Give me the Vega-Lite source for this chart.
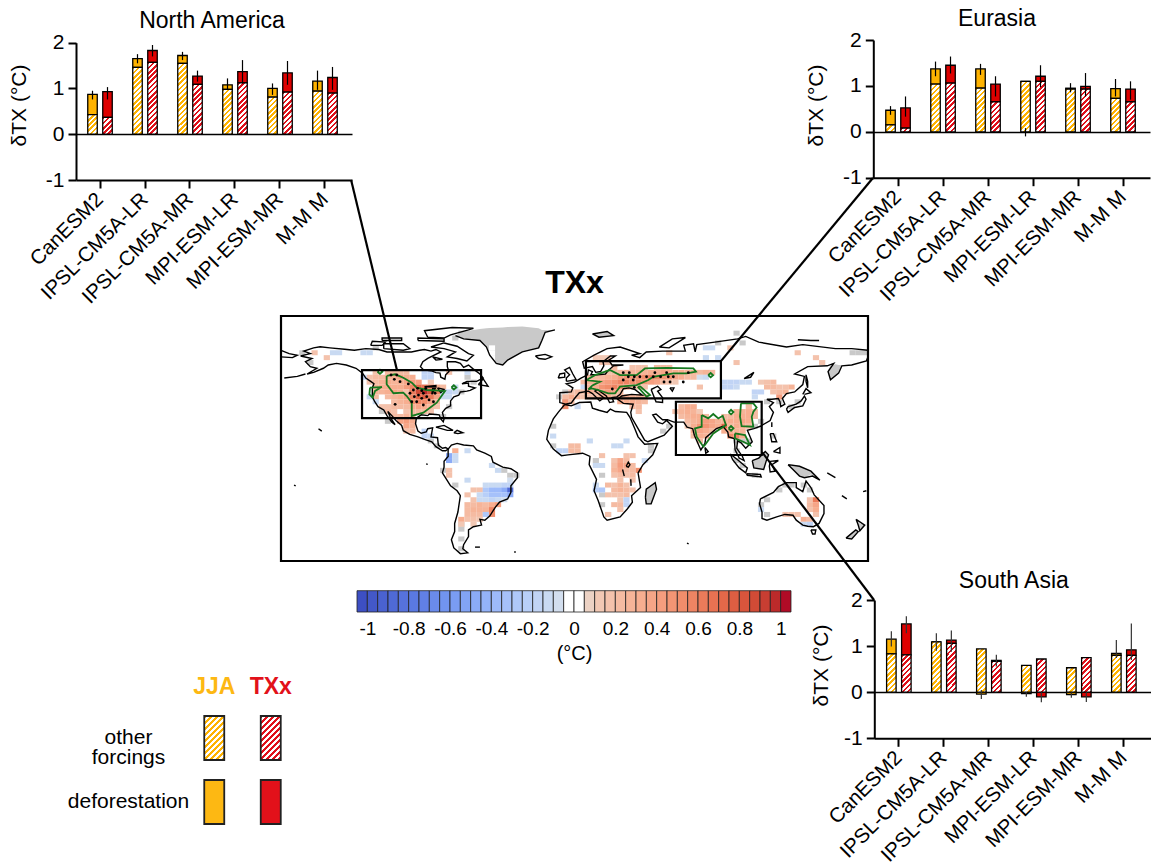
{"$schema":"https://vega.github.io/schema/vega-lite/v6.json","width":1151,"height":865,"padding":0,"autosize":"none","background":"white",
"config":{"view":{"stroke":null},"font":"Liberation Sans","text":{"font":"Liberation Sans"}},
"params":[
{"name":"hatchO","value":[{"offset":0,"color":"#ffb300"},{"offset":0.02,"color":"#ffb300"},{"offset":0.02,"color":"#fff"},{"offset":0.04,"color":"#fff"},{"offset":0.04,"color":"#ffb300"},{"offset":0.06,"color":"#ffb300"},{"offset":0.06,"color":"#fff"},{"offset":0.08,"color":"#fff"},{"offset":0.08,"color":"#ffb300"},{"offset":0.10,"color":"#ffb300"},{"offset":0.10,"color":"#fff"},{"offset":0.12,"color":"#fff"},{"offset":0.12,"color":"#ffb300"},{"offset":0.14,"color":"#ffb300"},{"offset":0.14,"color":"#fff"},{"offset":0.16,"color":"#fff"},{"offset":0.16,"color":"#ffb300"},{"offset":0.18,"color":"#ffb300"},{"offset":0.18,"color":"#fff"},{"offset":0.20,"color":"#fff"},{"offset":0.20,"color":"#ffb300"},{"offset":0.22,"color":"#ffb300"},{"offset":0.22,"color":"#fff"},{"offset":0.24,"color":"#fff"},{"offset":0.24,"color":"#ffb300"},{"offset":0.26,"color":"#ffb300"},{"offset":0.26,"color":"#fff"},{"offset":0.28,"color":"#fff"},{"offset":0.28,"color":"#ffb300"},{"offset":0.30,"color":"#ffb300"},{"offset":0.30,"color":"#fff"},{"offset":0.32,"color":"#fff"},{"offset":0.32,"color":"#ffb300"},{"offset":0.34,"color":"#ffb300"},{"offset":0.34,"color":"#fff"},{"offset":0.36,"color":"#fff"},{"offset":0.36,"color":"#ffb300"},{"offset":0.38,"color":"#ffb300"},{"offset":0.38,"color":"#fff"},{"offset":0.40,"color":"#fff"},{"offset":0.40,"color":"#ffb300"},{"offset":0.42,"color":"#ffb300"},{"offset":0.42,"color":"#fff"},{"offset":0.44,"color":"#fff"},{"offset":0.44,"color":"#ffb300"},{"offset":0.46,"color":"#ffb300"},{"offset":0.46,"color":"#fff"},{"offset":0.48,"color":"#fff"},{"offset":0.48,"color":"#ffb300"},{"offset":0.50,"color":"#ffb300"},{"offset":0.50,"color":"#fff"},{"offset":0.52,"color":"#fff"},{"offset":0.52,"color":"#ffb300"},{"offset":0.54,"color":"#ffb300"},{"offset":0.54,"color":"#fff"},{"offset":0.56,"color":"#fff"},{"offset":0.56,"color":"#ffb300"},{"offset":0.58,"color":"#ffb300"},{"offset":0.58,"color":"#fff"},{"offset":0.60,"color":"#fff"},{"offset":0.60,"color":"#ffb300"},{"offset":0.62,"color":"#ffb300"},{"offset":0.62,"color":"#fff"},{"offset":0.64,"color":"#fff"},{"offset":0.64,"color":"#ffb300"},{"offset":0.66,"color":"#ffb300"},{"offset":0.66,"color":"#fff"},{"offset":0.68,"color":"#fff"},{"offset":0.68,"color":"#ffb300"},{"offset":0.70,"color":"#ffb300"},{"offset":0.70,"color":"#fff"},{"offset":0.72,"color":"#fff"},{"offset":0.72,"color":"#ffb300"},{"offset":0.74,"color":"#ffb300"},{"offset":0.74,"color":"#fff"},{"offset":0.76,"color":"#fff"},{"offset":0.76,"color":"#ffb300"},{"offset":0.78,"color":"#ffb300"},{"offset":0.78,"color":"#fff"},{"offset":0.80,"color":"#fff"},{"offset":0.80,"color":"#ffb300"},{"offset":0.82,"color":"#ffb300"},{"offset":0.82,"color":"#fff"},{"offset":0.84,"color":"#fff"},{"offset":0.84,"color":"#ffb300"},{"offset":0.86,"color":"#ffb300"},{"offset":0.86,"color":"#fff"},{"offset":0.88,"color":"#fff"}]},
{"name":"hatchR","value":[{"offset":0,"color":"#e0101a"},{"offset":0.02,"color":"#e0101a"},{"offset":0.02,"color":"#fff"},{"offset":0.04,"color":"#fff"},{"offset":0.04,"color":"#e0101a"},{"offset":0.06,"color":"#e0101a"},{"offset":0.06,"color":"#fff"},{"offset":0.08,"color":"#fff"},{"offset":0.08,"color":"#e0101a"},{"offset":0.10,"color":"#e0101a"},{"offset":0.10,"color":"#fff"},{"offset":0.12,"color":"#fff"},{"offset":0.12,"color":"#e0101a"},{"offset":0.14,"color":"#e0101a"},{"offset":0.14,"color":"#fff"},{"offset":0.16,"color":"#fff"},{"offset":0.16,"color":"#e0101a"},{"offset":0.18,"color":"#e0101a"},{"offset":0.18,"color":"#fff"},{"offset":0.20,"color":"#fff"},{"offset":0.20,"color":"#e0101a"},{"offset":0.22,"color":"#e0101a"},{"offset":0.22,"color":"#fff"},{"offset":0.24,"color":"#fff"},{"offset":0.24,"color":"#e0101a"},{"offset":0.26,"color":"#e0101a"},{"offset":0.26,"color":"#fff"},{"offset":0.28,"color":"#fff"},{"offset":0.28,"color":"#e0101a"},{"offset":0.30,"color":"#e0101a"},{"offset":0.30,"color":"#fff"},{"offset":0.32,"color":"#fff"},{"offset":0.32,"color":"#e0101a"},{"offset":0.34,"color":"#e0101a"},{"offset":0.34,"color":"#fff"},{"offset":0.36,"color":"#fff"},{"offset":0.36,"color":"#e0101a"},{"offset":0.38,"color":"#e0101a"},{"offset":0.38,"color":"#fff"},{"offset":0.40,"color":"#fff"},{"offset":0.40,"color":"#e0101a"},{"offset":0.42,"color":"#e0101a"},{"offset":0.42,"color":"#fff"},{"offset":0.44,"color":"#fff"},{"offset":0.44,"color":"#e0101a"},{"offset":0.46,"color":"#e0101a"},{"offset":0.46,"color":"#fff"},{"offset":0.48,"color":"#fff"},{"offset":0.48,"color":"#e0101a"},{"offset":0.50,"color":"#e0101a"},{"offset":0.50,"color":"#fff"},{"offset":0.52,"color":"#fff"},{"offset":0.52,"color":"#e0101a"},{"offset":0.54,"color":"#e0101a"},{"offset":0.54,"color":"#fff"},{"offset":0.56,"color":"#fff"},{"offset":0.56,"color":"#e0101a"},{"offset":0.58,"color":"#e0101a"},{"offset":0.58,"color":"#fff"},{"offset":0.60,"color":"#fff"},{"offset":0.60,"color":"#e0101a"},{"offset":0.62,"color":"#e0101a"},{"offset":0.62,"color":"#fff"},{"offset":0.64,"color":"#fff"},{"offset":0.64,"color":"#e0101a"},{"offset":0.66,"color":"#e0101a"},{"offset":0.66,"color":"#fff"},{"offset":0.68,"color":"#fff"},{"offset":0.68,"color":"#e0101a"},{"offset":0.70,"color":"#e0101a"},{"offset":0.70,"color":"#fff"},{"offset":0.72,"color":"#fff"},{"offset":0.72,"color":"#e0101a"},{"offset":0.74,"color":"#e0101a"},{"offset":0.74,"color":"#fff"},{"offset":0.76,"color":"#fff"},{"offset":0.76,"color":"#e0101a"},{"offset":0.78,"color":"#e0101a"},{"offset":0.78,"color":"#fff"},{"offset":0.80,"color":"#fff"},{"offset":0.80,"color":"#e0101a"},{"offset":0.82,"color":"#e0101a"},{"offset":0.82,"color":"#fff"},{"offset":0.84,"color":"#fff"},{"offset":0.84,"color":"#e0101a"},{"offset":0.86,"color":"#e0101a"},{"offset":0.86,"color":"#fff"},{"offset":0.88,"color":"#fff"}]}
],
"datasets":{
"bars":[
{"r":"NA","model":"CanESM2","season":"JJA","other":0.43,"base":0.43,"top":0.87,"lo":0.76,"hi":0.95},
{"r":"NA","model":"CanESM2","season":"TXx","other":0.37,"base":0.37,"top":0.93,"lo":0.76,"hi":1.03},
{"r":"NA","model":"IPSL-CM5A-LR","season":"JJA","other":1.46,"base":1.46,"top":1.65,"lo":1.55,"hi":1.75},
{"r":"NA","model":"IPSL-CM5A-LR","season":"TXx","other":1.57,"base":1.57,"top":1.83,"lo":1.7,"hi":1.95},
{"r":"NA","model":"IPSL-CM5A-MR","season":"JJA","other":1.55,"base":1.55,"top":1.72,"lo":1.62,"hi":1.8},
{"r":"NA","model":"IPSL-CM5A-MR","season":"TXx","other":1.09,"base":1.09,"top":1.27,"lo":1.15,"hi":1.39},
{"r":"NA","model":"MPI-ESM-LR","season":"JJA","other":0.98,"base":0.98,"top":1.08,"lo":0.98,"hi":1.22},
{"r":"NA","model":"MPI-ESM-LR","season":"TXx","other":1.12,"base":1.12,"top":1.37,"lo":1.11,"hi":1.62},
{"r":"NA","model":"MPI-ESM-MR","season":"JJA","other":0.81,"base":0.81,"top":1.0,"lo":0.86,"hi":1.11},
{"r":"NA","model":"MPI-ESM-MR","season":"TXx","other":0.92,"base":0.92,"top":1.34,"lo":1.08,"hi":1.6},
{"r":"NA","model":"M-M M","season":"JJA","other":0.94,"base":0.94,"top":1.16,"lo":0.97,"hi":1.39},
{"r":"NA","model":"M-M M","season":"TXx","other":0.9,"base":0.9,"top":1.24,"lo":0.97,"hi":1.47},
{"r":"EU","model":"CanESM2","season":"JJA","other":0.15,"base":0.15,"top":0.47,"lo":0.37,"hi":0.56},
{"r":"EU","model":"CanESM2","season":"TXx","other":0.08,"base":0.08,"top":0.52,"lo":0.33,"hi":0.77},
{"r":"EU","model":"IPSL-CM5A-LR","season":"JJA","other":1.04,"base":1.04,"top":1.37,"lo":1.21,"hi":1.53},
{"r":"EU","model":"IPSL-CM5A-LR","season":"TXx","other":1.06,"base":1.06,"top":1.45,"lo":1.27,"hi":1.64},
{"r":"EU","model":"IPSL-CM5A-MR","season":"JJA","other":0.95,"base":0.95,"top":1.37,"lo":1.24,"hi":1.48},
{"r":"EU","model":"IPSL-CM5A-MR","season":"TXx","other":0.65,"base":0.65,"top":1.04,"lo":0.77,"hi":1.21},
{"r":"EU","model":"MPI-ESM-LR","season":"JJA","other":1.1,"base":1.1,"top":1.1,"lo":-0.1,"hi":0.08},
{"r":"EU","model":"MPI-ESM-LR","season":"TXx","other":1.1,"base":1.1,"top":1.21,"lo":0.97,"hi":1.45},
{"r":"EU","model":"MPI-ESM-MR","season":"JJA","other":0.93,"base":0.93,"top":0.95,"lo":0.86,"hi":1.06},
{"r":"EU","model":"MPI-ESM-MR","season":"TXx","other":0.93,"base":0.93,"top":0.99,"lo":0.77,"hi":1.28},
{"r":"EU","model":"M-M M","season":"JJA","other":0.73,"base":0.73,"top":0.94,"lo":0.77,"hi":1.15},
{"r":"EU","model":"M-M M","season":"TXx","other":0.65,"base":0.65,"top":0.93,"lo":0.7,"hi":1.1},
{"r":"SA","model":"CanESM2","season":"JJA","other":0.83,"base":0.83,"top":1.15,"lo":0.99,"hi":1.32},
{"r":"SA","model":"CanESM2","season":"TXx","other":0.81,"base":0.81,"top":1.48,"lo":1.28,"hi":1.65},
{"r":"SA","model":"IPSL-CM5A-LR","season":"JJA","other":1.09,"base":1.09,"top":1.09,"lo":0.9,"hi":1.28},
{"r":"SA","model":"IPSL-CM5A-LR","season":"TXx","other":1.06,"base":1.06,"top":1.13,"lo":0.88,"hi":1.34},
{"r":"SA","model":"IPSL-CM5A-MR","season":"JJA","other":0.94,"base":0,"top":-0.04,"lo":-0.15,"hi":0.05},
{"r":"SA","model":"IPSL-CM5A-MR","season":"TXx","other":0.67,"base":0.67,"top":0.69,"lo":0.56,"hi":0.81},
{"r":"SA","model":"MPI-ESM-LR","season":"JJA","other":0.58,"base":0,"top":-0.03,"lo":-0.1,"hi":0},
{"r":"SA","model":"MPI-ESM-LR","season":"TXx","other":0.72,"base":0,"top":-0.1,"lo":-0.22,"hi":0},
{"r":"SA","model":"MPI-ESM-MR","season":"JJA","other":0.53,"base":0,"top":-0.05,"lo":-0.12,"hi":0},
{"r":"SA","model":"MPI-ESM-MR","season":"TXx","other":0.75,"base":0,"top":-0.1,"lo":-0.21,"hi":0},
{"r":"SA","model":"M-M M","season":"JJA","other":0.8,"base":0.8,"top":0.84,"lo":0.74,"hi":1.13},
{"r":"SA","model":"M-M M","season":"TXx","other":0.8,"base":0.8,"top":0.92,"lo":0.7,"hi":1.49}
],
"cells":[
{"lon":-121.9,"lat":55.5,"v":0.15},{"lon":-114.4,"lat":55.5,"v":0.2},{"lon":-110.6,"lat":55.5,"v":0.2},{"lon":-106.9,"lat":55.5,"v":0.2},{"lon":-103.1,"lat":55.5,"v":0.2},{"lon":-91.9,"lat":55.5,"v":-0.2},{"lon":-88.1,"lat":55.5,"v":-0.2},{"lon":-76.9,"lat":55.5,"v":0.15},{"lon":-65.6,"lat":55.5,"v":-0.15},
{"lon":-125.6,"lat":52.5,"v":0.15},{"lon":-121.9,"lat":52.5,"v":0.2},{"lon":-118.1,"lat":52.5,"v":0.2},{"lon":-114.4,"lat":52.5,"v":0.25},{"lon":-110.6,"lat":52.5,"v":0.3},{"lon":-106.9,"lat":52.5,"v":0.35},{"lon":-103.1,"lat":52.5,"v":0.3},{"lon":-99.4,"lat":52.5,"v":0.3},{"lon":-91.9,"lat":52.5,"v":-0.2},{"lon":-88.1,"lat":52.5,"v":-0.2},
{"lon":-125.6,"lat":49.5,"v":0.15},{"lon":-121.9,"lat":49.5,"v":0.2},{"lon":-118.1,"lat":49.5,"v":0.25},{"lon":-114.4,"lat":49.5,"v":0.3},{"lon":-110.6,"lat":49.5,"v":0.25},{"lon":-106.9,"lat":49.5,"v":0.3},{"lon":-103.1,"lat":49.5,"v":0.35},{"lon":-99.4,"lat":49.5,"v":0.4},{"lon":-95.6,"lat":49.5,"v":0.4},{"lon":-88.1,"lat":49.5,"v":0.1},
{"lon":-121.9,"lat":46.5,"v":0.25},{"lon":-118.1,"lat":46.5,"v":0.3},{"lon":-114.4,"lat":46.5,"v":0.3},{"lon":-110.6,"lat":46.5,"v":0.3},{"lon":-106.9,"lat":46.5,"v":0.3},{"lon":-103.1,"lat":46.5,"v":0.4},{"lon":-99.4,"lat":46.5,"v":0.55},{"lon":-95.6,"lat":46.5,"v":0.7},{"lon":-91.9,"lat":46.5,"v":0.65},{"lon":-88.1,"lat":46.5,"v":0.5},{"lon":-84.4,"lat":46.5,"v":0.3},{"lon":-80.6,"lat":46.5,"v":0.2},{"lon":-73.1,"lat":46.5,"v":-0.15},
{"lon":-121.9,"lat":43.5,"v":0.25},{"lon":-118.1,"lat":43.5,"v":0.25},{"lon":-114.4,"lat":43.5,"v":0.3},{"lon":-110.6,"lat":43.5,"v":0.35},{"lon":-106.9,"lat":43.5,"v":0.3},{"lon":-103.1,"lat":43.5,"v":0.15},{"lon":-99.4,"lat":43.5,"v":0.6},{"lon":-95.6,"lat":43.5,"v":0.85},{"lon":-91.9,"lat":43.5,"v":0.95},{"lon":-88.1,"lat":43.5,"v":0.8},{"lon":-84.4,"lat":43.5,"v":0.55},{"lon":-80.6,"lat":43.5,"v":-0.15},{"lon":-76.9,"lat":43.5,"v":-0.2},{"lon":-73.1,"lat":43.5,"v":-0.15},
{"lon":-125.6,"lat":40.5,"v":-0.15},{"lon":-121.9,"lat":40.5,"v":0.2},{"lon":-114.4,"lat":40.5,"v":0.2},{"lon":-110.6,"lat":40.5,"v":0.25},{"lon":-106.9,"lat":40.5,"v":0.3},{"lon":-103.1,"lat":40.5,"v":0.35},{"lon":-99.4,"lat":40.5,"v":0.55},{"lon":-95.6,"lat":40.5,"v":0.7},{"lon":-91.9,"lat":40.5,"v":0.75},{"lon":-88.1,"lat":40.5,"v":0.6},{"lon":-84.4,"lat":40.5,"v":0.35},{"lon":-80.6,"lat":40.5,"v":-0.15},{"lon":-76.9,"lat":40.5,"v":-0.15},
{"lon":-121.9,"lat":37.5,"v":-0.15},{"lon":-110.6,"lat":37.5,"v":0.2},{"lon":-106.9,"lat":37.5,"v":0.25},{"lon":-103.1,"lat":37.5,"v":0.3},{"lon":-99.4,"lat":37.5,"v":0.5},{"lon":-95.6,"lat":37.5,"v":0.55},{"lon":-91.9,"lat":37.5,"v":0.5},{"lon":-88.1,"lat":37.5,"v":0.35},{"lon":-84.4,"lat":37.5,"v":0.2},
{"lon":-118.1,"lat":34.5,"v":0.15},{"lon":-114.4,"lat":34.5,"v":0.15},{"lon":-110.6,"lat":34.5,"v":0.2},{"lon":-106.9,"lat":34.5,"v":0.2},{"lon":-103.1,"lat":34.5,"v":0.2},{"lon":-99.4,"lat":34.5,"v":0.3},{"lon":-95.6,"lat":34.5,"v":0.35},{"lon":-91.9,"lat":34.5,"v":0.3},{"lon":-88.1,"lat":34.5,"v":0.2},{"lon":-84.4,"lat":34.5,"v":0.15},
{"lon":-114.4,"lat":31.5,"v":0.2},{"lon":-110.6,"lat":31.5,"v":0.15},{"lon":-103.1,"lat":31.5,"v":0.15},{"lon":-99.4,"lat":31.5,"v":0.2},{"lon":-95.6,"lat":31.5,"v":0.2},{"lon":-91.9,"lat":31.5,"v":0.2},{"lon":-88.1,"lat":31.5,"v":0.15},
{"lon":-110.6,"lat":28.5,"v":0.2},{"lon":-106.9,"lat":28.5,"v":0.2},{"lon":-103.1,"lat":28.5,"v":0.25},{"lon":-99.4,"lat":28.5,"v":0.2},
{"lon":-106.9,"lat":25.5,"v":0.35},{"lon":-103.1,"lat":25.5,"v":0.4},{"lon":-99.4,"lat":25.5,"v":0.3},{"lon":-103.1,"lat":22.5,"v":0.35},{"lon":-99.4,"lat":22.5,"v":0.25},{"lon":-103.1,"lat":19.5,"v":0.15},{"lon":-99.4,"lat":19.5,"v":0.2},{"lon":-91.9,"lat":19.5,"v":-0.2},{"lon":-91.9,"lat":16.5,"v":-0.2},{"lon":-88.1,"lat":16.5,"v":-0.15},
{"lon":-159.4,"lat":67.5,"v":0.15},{"lon":-148.1,"lat":67.5,"v":-0.15},{"lon":-144.4,"lat":67.5,"v":-0.15},{"lon":-129.4,"lat":67.5,"v":-0.15},{"lon":-125.6,"lat":67.5,"v":-0.15},{"lon":-151.9,"lat":64.5,"v":0.15},{"lon":-129.4,"lat":52.5,"v":-0.2},
{"lon":-50.6,"lat":70.5,"v":0},{"lon":-50.6,"lat":67.5,"v":0},{"lon":-50.6,"lat":64.5,"v":0},
{"lon":13.1,"lat":64.5,"v":0.1},{"lon":16.9,"lat":64.5,"v":0.1},{"lon":20.6,"lat":64.5,"v":0.1},{"lon":80.6,"lat":64.5,"v":-0.15},{"lon":88.1,"lat":64.5,"v":-0.15},{"lon":58.1,"lat":67.5,"v":0.15},{"lon":84.4,"lat":70.5,"v":-0.15},{"lon":80.6,"lat":70.5,"v":-0.15},{"lon":95.6,"lat":70.5,"v":0.15},{"lon":99.4,"lat":61.5,"v":0.15},{"lon":136.9,"lat":67.5,"v":0.15},{"lon":148.1,"lat":64.5,"v":0.15},{"lon":151.9,"lat":61.5,"v":0.15},
{"lon":16.9,"lat":61.5,"v":0.15},{"lon":20.6,"lat":61.5,"v":0.15},{"lon":24.4,"lat":58.5,"v":0.2},{"lon":35.6,"lat":58.5,"v":0.15},{"lon":39.4,"lat":58.5,"v":0.15},{"lon":43.1,"lat":58.5,"v":0.15},{"lon":50.6,"lat":58.5,"v":0.2},{"lon":54.4,"lat":58.5,"v":0.2},{"lon":58.1,"lat":58.5,"v":0.2},
{"lon":20.6,"lat":55.5,"v":0.15},{"lon":24.4,"lat":55.5,"v":0.2},{"lon":28.1,"lat":55.5,"v":0.2},{"lon":31.9,"lat":55.5,"v":0.25},{"lon":35.6,"lat":55.5,"v":0.25},{"lon":39.4,"lat":55.5,"v":0.25},{"lon":43.1,"lat":55.5,"v":0.25},{"lon":46.9,"lat":55.5,"v":0.3},{"lon":50.6,"lat":55.5,"v":0.3},{"lon":54.4,"lat":55.5,"v":0.35},{"lon":58.1,"lat":55.5,"v":0.3},{"lon":61.9,"lat":55.5,"v":0.3},{"lon":65.6,"lat":55.5,"v":0.3},{"lon":69.4,"lat":55.5,"v":0.25},{"lon":73.1,"lat":55.5,"v":0.25},{"lon":76.9,"lat":55.5,"v":0.2},{"lon":80.6,"lat":55.5,"v":0.25},{"lon":84.4,"lat":55.5,"v":0.2},
{"lon":9.4,"lat":52.5,"v":0.2},{"lon":13.1,"lat":52.5,"v":0.2},{"lon":16.9,"lat":52.5,"v":0.2},{"lon":20.6,"lat":52.5,"v":0.25},{"lon":24.4,"lat":52.5,"v":0.3},{"lon":28.1,"lat":52.5,"v":0.4},{"lon":31.9,"lat":52.5,"v":0.45},{"lon":35.6,"lat":52.5,"v":0.45},{"lon":39.4,"lat":52.5,"v":0.45},{"lon":43.1,"lat":52.5,"v":0.5},{"lon":46.9,"lat":52.5,"v":0.55},{"lon":50.6,"lat":52.5,"v":0.5},{"lon":54.4,"lat":52.5,"v":0.45},{"lon":58.1,"lat":52.5,"v":0.45},{"lon":61.9,"lat":52.5,"v":0.35},{"lon":65.6,"lat":52.5,"v":0.3},{"lon":69.4,"lat":52.5,"v":0.2},{"lon":73.1,"lat":52.5,"v":0.2},{"lon":76.9,"lat":52.5,"v":-0.1},{"lon":80.6,"lat":52.5,"v":-0.15},
{"lon":5.6,"lat":49.5,"v":0.2},{"lon":9.4,"lat":49.5,"v":0.25},{"lon":13.1,"lat":49.5,"v":0.3},{"lon":16.9,"lat":49.5,"v":0.35},{"lon":20.6,"lat":49.5,"v":0.4},{"lon":24.4,"lat":49.5,"v":0.45},{"lon":28.1,"lat":49.5,"v":0.55},{"lon":31.9,"lat":49.5,"v":0.55},{"lon":35.6,"lat":49.5,"v":0.5},{"lon":39.4,"lat":49.5,"v":0.5},{"lon":43.1,"lat":49.5,"v":0.45},{"lon":46.9,"lat":49.5,"v":0.4},{"lon":50.6,"lat":49.5,"v":0.35},{"lon":54.4,"lat":49.5,"v":0.2},{"lon":58.1,"lat":49.5,"v":0.15},{"lon":61.9,"lat":49.5,"v":0.1},
{"lon":5.6,"lat":46.5,"v":-0.15},{"lon":9.4,"lat":46.5,"v":0.2},{"lon":13.1,"lat":46.5,"v":0.3},{"lon":16.9,"lat":46.5,"v":0.45},{"lon":20.6,"lat":46.5,"v":0.5},{"lon":24.4,"lat":46.5,"v":0.55},{"lon":28.1,"lat":46.5,"v":0.45},{"lon":31.9,"lat":46.5,"v":0.4},{"lon":35.6,"lat":46.5,"v":0.2},{"lon":39.4,"lat":46.5,"v":0.15},{"lon":43.1,"lat":46.5,"v":0.15},{"lon":76.9,"lat":46.5,"v":0.15},
{"lon":-1.9,"lat":43.5,"v":0.15},{"lon":1.9,"lat":43.5,"v":0.2},{"lon":5.6,"lat":43.5,"v":0.15},{"lon":9.4,"lat":43.5,"v":0.3},{"lon":13.1,"lat":43.5,"v":0.2},{"lon":16.9,"lat":43.5,"v":0.35},{"lon":20.6,"lat":43.5,"v":0.4},{"lon":24.4,"lat":43.5,"v":0.35},{"lon":28.1,"lat":43.5,"v":0.2},
{"lon":-5.6,"lat":40.5,"v":0.2},{"lon":-1.9,"lat":40.5,"v":0.3},{"lon":1.9,"lat":40.5,"v":0.2},{"lon":5.6,"lat":40.5,"v":0.15},{"lon":9.4,"lat":40.5,"v":0.15},{"lon":13.1,"lat":40.5,"v":0.2},{"lon":16.9,"lat":40.5,"v":0.25},{"lon":20.6,"lat":40.5,"v":0.3},{"lon":24.4,"lat":40.5,"v":0.2},{"lon":28.1,"lat":40.5,"v":0.3},{"lon":31.9,"lat":40.5,"v":0.3},{"lon":35.6,"lat":40.5,"v":0.25},{"lon":39.4,"lat":40.5,"v":0.25},{"lon":43.1,"lat":40.5,"v":0.2},
{"lon":-5.6,"lat":37.5,"v":0.45},{"lon":-1.9,"lat":37.5,"v":0.2},{"lon":28.1,"lat":37.5,"v":0.3},{"lon":31.9,"lat":37.5,"v":0.3},{"lon":35.6,"lat":37.5,"v":0.3},{"lon":39.4,"lat":37.5,"v":0.25},{"lon":43.1,"lat":37.5,"v":0.2},
{"lon":-5.6,"lat":34.5,"v":0.5},{"lon":1.9,"lat":34.5,"v":-0.15},{"lon":35.6,"lat":34.5,"v":0.2},{"lon":39.4,"lat":34.5,"v":0.2},{"lon":39.4,"lat":31.5,"v":0.15},
{"lon":91.9,"lat":49.5,"v":-0.2},{"lon":95.6,"lat":49.5,"v":-0.2},{"lon":99.4,"lat":49.5,"v":-0.2},{"lon":91.9,"lat":46.5,"v":-0.2},{"lon":95.6,"lat":46.5,"v":-0.2},{"lon":99.4,"lat":46.5,"v":-0.15},{"lon":106.9,"lat":49.5,"v":-0.15},{"lon":103.1,"lat":49.5,"v":-0.15},{"lon":114.4,"lat":49.5,"v":0.1},{"lon":114.4,"lat":43.5,"v":-0.2},{"lon":110.6,"lat":43.5,"v":-0.2},{"lon":110.6,"lat":40.5,"v":-0.15},
{"lon":118.1,"lat":49.5,"v":0.15},{"lon":121.9,"lat":49.5,"v":0.2},{"lon":118.1,"lat":46.5,"v":0.2},{"lon":121.9,"lat":46.5,"v":0.2},{"lon":125.6,"lat":46.5,"v":0.15},{"lon":129.4,"lat":46.5,"v":0.15},{"lon":133.1,"lat":46.5,"v":0.25},{"lon":121.9,"lat":43.5,"v":0.15},{"lon":125.6,"lat":43.5,"v":0.2},{"lon":129.4,"lat":43.5,"v":0.25},{"lon":125.6,"lat":40.5,"v":0.4},
{"lon":65.6,"lat":34.5,"v":0.2},{"lon":69.4,"lat":34.5,"v":0.3},{"lon":73.1,"lat":34.5,"v":0.3},{"lon":106.9,"lat":34.5,"v":0.2},
{"lon":61.9,"lat":31.5,"v":0.15},{"lon":65.6,"lat":31.5,"v":0.25},{"lon":69.4,"lat":31.5,"v":0.3},{"lon":73.1,"lat":31.5,"v":0.25},{"lon":76.9,"lat":31.5,"v":0.1},{"lon":99.4,"lat":31.5,"v":0.25},{"lon":103.1,"lat":31.5,"v":0.25},{"lon":106.9,"lat":31.5,"v":0.3},{"lon":110.6,"lat":31.5,"v":0.2},
{"lon":65.6,"lat":28.5,"v":0.2},{"lon":69.4,"lat":28.5,"v":0.25},{"lon":73.1,"lat":28.5,"v":0.3},{"lon":76.9,"lat":28.5,"v":0.3},{"lon":80.6,"lat":28.5,"v":0.2},{"lon":91.9,"lat":28.5,"v":0.2},{"lon":95.6,"lat":28.5,"v":0.2},{"lon":99.4,"lat":28.5,"v":0.3},{"lon":103.1,"lat":28.5,"v":0.3},{"lon":106.9,"lat":28.5,"v":0.3},{"lon":110.6,"lat":28.5,"v":0.2},
{"lon":69.4,"lat":25.5,"v":0.2},{"lon":73.1,"lat":25.5,"v":0.25},{"lon":76.9,"lat":25.5,"v":0.3},{"lon":80.6,"lat":25.5,"v":0.4},{"lon":84.4,"lat":25.5,"v":0.35},{"lon":88.1,"lat":25.5,"v":0.25},{"lon":91.9,"lat":25.5,"v":0.25},{"lon":95.6,"lat":25.5,"v":0.3},{"lon":99.4,"lat":25.5,"v":0.3},{"lon":103.1,"lat":25.5,"v":0.35},{"lon":106.9,"lat":25.5,"v":0.3},
{"lon":69.4,"lat":22.5,"v":0.1},{"lon":73.1,"lat":22.5,"v":0.3},{"lon":76.9,"lat":22.5,"v":0.45},{"lon":80.6,"lat":22.5,"v":0.45},{"lon":84.4,"lat":22.5,"v":0.35},{"lon":88.1,"lat":22.5,"v":0.3},{"lon":91.9,"lat":22.5,"v":0.7},{"lon":95.6,"lat":22.5,"v":0.2},{"lon":99.4,"lat":22.5,"v":0.3},{"lon":103.1,"lat":22.5,"v":0.3},{"lon":106.9,"lat":22.5,"v":0.2},
{"lon":73.1,"lat":19.5,"v":0.3},{"lon":76.9,"lat":19.5,"v":0.35},{"lon":80.6,"lat":19.5,"v":0.3},{"lon":84.4,"lat":19.5,"v":0.2},{"lon":91.9,"lat":19.5,"v":0.3},{"lon":95.6,"lat":19.5,"v":0.3},{"lon":99.4,"lat":19.5,"v":0.25},{"lon":103.1,"lat":19.5,"v":0.25},
{"lon":73.1,"lat":16.5,"v":0.2},{"lon":76.9,"lat":16.5,"v":0.3},{"lon":80.6,"lat":16.5,"v":0.25},{"lon":95.6,"lat":16.5,"v":0.5},{"lon":99.4,"lat":16.5,"v":0.55},{"lon":103.1,"lat":16.5,"v":0.3},{"lon":76.9,"lat":13.5,"v":0.2},
{"lon":-73.1,"lat":7.5,"v":0.3},{"lon":-76.9,"lat":4.5,"v":-0.5},{"lon":-76.9,"lat":1.5,"v":-0.5},{"lon":-73.1,"lat":4.5,"v":-0.15},{"lon":-73.1,"lat":1.5,"v":-0.15},{"lon":-65.6,"lat":7.5,"v":-0.15},{"lon":-76.9,"lat":-4.5,"v":0.15},{"lon":-76.9,"lat":-7.5,"v":0.15},{"lon":-50.6,"lat":-1.5,"v":-0.15},{"lon":-46.9,"lat":-4.5,"v":-0.15},{"lon":-39.4,"lat":-10.5,"v":-0.1},{"lon":-65.6,"lat":-10.5,"v":-0.15},
{"lon":-54.4,"lat":-13.5,"v":-0.15},{"lon":-50.6,"lat":-13.5,"v":-0.15},{"lon":-46.9,"lat":-13.5,"v":-0.15},{"lon":-43.1,"lat":-13.5,"v":-0.2},{"lon":-39.4,"lat":-13.5,"v":-0.2},
{"lon":-61.9,"lat":-16.5,"v":0.15},{"lon":-58.1,"lat":-16.5,"v":0.15},{"lon":-54.4,"lat":-16.5,"v":-0.3},{"lon":-50.6,"lat":-16.5,"v":-0.4},{"lon":-46.9,"lat":-16.5,"v":-0.4},{"lon":-43.1,"lat":-16.5,"v":-0.5},{"lon":-39.4,"lat":-16.5,"v":-0.9},
{"lon":-65.6,"lat":-19.5,"v":0.15},{"lon":-58.1,"lat":-19.5,"v":-0.15},{"lon":-54.4,"lat":-19.5,"v":-0.25},{"lon":-50.6,"lat":-19.5,"v":-0.35},{"lon":-46.9,"lat":-19.5,"v":-0.35},{"lon":-43.1,"lat":-19.5,"v":-0.35},{"lon":-39.4,"lat":-19.5,"v":-0.5},
{"lon":-61.9,"lat":-22.5,"v":0.15},{"lon":-58.1,"lat":-22.5,"v":-0.15},{"lon":-54.4,"lat":-22.5,"v":-0.15},{"lon":-50.6,"lat":-22.5,"v":-0.2},{"lon":-46.9,"lat":-22.5,"v":-0.15},{"lon":-43.1,"lat":-22.5,"v":-0.1},
{"lon":-65.6,"lat":-25.5,"v":0.2},{"lon":-61.9,"lat":-25.5,"v":0.2},{"lon":-58.1,"lat":-25.5,"v":0.25},{"lon":-54.4,"lat":-25.5,"v":0.2},{"lon":-50.6,"lat":-25.5,"v":0.3},{"lon":-46.9,"lat":-25.5,"v":0.4},
{"lon":-65.6,"lat":-28.5,"v":0.2},{"lon":-61.9,"lat":-28.5,"v":0.25},{"lon":-58.1,"lat":-28.5,"v":0.25},{"lon":-54.4,"lat":-28.5,"v":0.25},{"lon":-50.6,"lat":-28.5,"v":0.55},
{"lon":-65.6,"lat":-31.5,"v":0.2},{"lon":-61.9,"lat":-31.5,"v":0.2},{"lon":-58.1,"lat":-31.5,"v":0.2},{"lon":-54.4,"lat":-31.5,"v":-0.3},{"lon":-50.6,"lat":-31.5,"v":0.5},
{"lon":-69.4,"lat":-34.5,"v":0.3},{"lon":-65.6,"lat":-34.5,"v":0.15},{"lon":-61.9,"lat":-34.5,"v":0.15},{"lon":-58.1,"lat":-34.5,"v":0.1},{"lon":-69.4,"lat":-37.5,"v":0.1},{"lon":-61.9,"lat":-37.5,"v":0.1},
{"lon":-13.1,"lat":16.5,"v":-0.15},{"lon":-9.4,"lat":7.5,"v":-0.2},{"lon":-5.6,"lat":7.5,"v":-0.2},{"lon":-1.9,"lat":10.5,"v":0.2},{"lon":1.9,"lat":10.5,"v":0.2},{"lon":-1.9,"lat":7.5,"v":0.2},{"lon":1.9,"lat":7.5,"v":0.2},{"lon":9.4,"lat":13.5,"v":-0.15},{"lon":13.1,"lat":-1.5,"v":-0.15},{"lon":16.9,"lat":-1.5,"v":-0.15},{"lon":16.9,"lat":4.5,"v":0.15},{"lon":24.4,"lat":10.5,"v":-0.15},{"lon":28.1,"lat":10.5,"v":-0.15},{"lon":31.9,"lat":13.5,"v":-0.15},{"lon":31.9,"lat":4.5,"v":0.15},{"lon":35.6,"lat":4.5,"v":0.15},{"lon":43.1,"lat":1.5,"v":-0.15},
{"lon":24.4,"lat":1.5,"v":0.15},{"lon":28.1,"lat":1.5,"v":0.35},{"lon":31.9,"lat":1.5,"v":0.2},{"lon":24.4,"lat":-1.5,"v":0.2},{"lon":28.1,"lat":-1.5,"v":0.4},{"lon":31.9,"lat":-1.5,"v":0.35},{"lon":35.6,"lat":-1.5,"v":0.2},{"lon":24.4,"lat":-4.5,"v":0.25},{"lon":28.1,"lat":-4.5,"v":0.35},{"lon":31.9,"lat":-4.5,"v":0.2},{"lon":35.6,"lat":-4.5,"v":0.2},{"lon":39.4,"lat":-4.5,"v":0.5},{"lon":24.4,"lat":-7.5,"v":0.15},{"lon":28.1,"lat":-7.5,"v":0.2},{"lon":31.9,"lat":-7.5,"v":0.15},{"lon":35.6,"lat":-7.5,"v":0.2},{"lon":28.1,"lat":-10.5,"v":0.15},{"lon":35.6,"lat":-10.5,"v":0.15},{"lon":13.1,"lat":-13.5,"v":-0.15},{"lon":20.6,"lat":-13.5,"v":0.2},{"lon":24.4,"lat":-13.5,"v":0.15},{"lon":28.1,"lat":-13.5,"v":0.25},{"lon":31.9,"lat":-13.5,"v":0.15},{"lon":16.9,"lat":-16.5,"v":-0.3},{"lon":13.1,"lat":-16.5,"v":-0.25},{"lon":24.4,"lat":-16.5,"v":0.2},{"lon":28.1,"lat":-16.5,"v":0.25},{"lon":31.9,"lat":-16.5,"v":0.2},{"lon":35.6,"lat":-16.5,"v":0.15},{"lon":20.6,"lat":-19.5,"v":0.15},{"lon":24.4,"lat":-19.5,"v":0.15},{"lon":28.1,"lat":-19.5,"v":0.15},{"lon":31.9,"lat":-19.5,"v":0.2},{"lon":28.1,"lat":-22.5,"v":0.1},{"lon":31.9,"lat":-22.5,"v":-0.2},{"lon":24.4,"lat":-25.5,"v":0.2},{"lon":28.1,"lat":-25.5,"v":0.2},{"lon":31.9,"lat":-25.5,"v":-0.2},{"lon":28.1,"lat":-28.5,"v":0.15},{"lon":20.6,"lat":-31.5,"v":0.15},
{"lon":144.4,"lat":-22.5,"v":0.15},{"lon":148.1,"lat":-22.5,"v":0.6},{"lon":144.4,"lat":-25.5,"v":0.2},{"lon":148.1,"lat":-25.5,"v":0.35},{"lon":148.1,"lat":-28.5,"v":0.3},{"lon":144.4,"lat":-28.5,"v":0.15},{"lon":114.4,"lat":-28.5,"v":-0.15},{"lon":129.4,"lat":-31.5,"v":0.15},{"lon":133.1,"lat":-31.5,"v":0.15},{"lon":136.9,"lat":-31.5,"v":0.15},{"lon":140.6,"lat":-34.5,"v":0.3},{"lon":144.4,"lat":-34.5,"v":0.2},{"lon":148.1,"lat":-31.5,"v":0.15},{"lon":144.4,"lat":-37.5,"v":-0.2},{"lon":140.6,"lat":-37.5,"v":-0.15}
],
"mask":[
{"lon":-166.9,"lat":67.5},{"lon":-162,"lat":61.5},{"lon":-121.9,"lat":70.5},{"lon":-114.4,"lat":25.5},{"lon":-88.1,"lat":13.5},{"lon":-84.4,"lat":10.5},{"lon":-118.1,"lat":31.5},{"lon":-80.6,"lat":28.5},{"lon":-76.9,"lat":34.5},{"lon":-69.4,"lat":43.5},{"lon":-65.6,"lat":52.5},{"lon":-61.9,"lat":49.5},{"lon":-73.1,"lat":76.5},{"lon":-69.4,"lat":79.5},
{"lon":-80.6,"lat":-4.5},{"lon":-73.1,"lat":-13.5},{"lon":-69.4,"lat":-37.5},{"lon":-69.4,"lat":-40.5},{"lon":-69.4,"lat":-46.5},{"lon":-69.4,"lat":-52.5},{"lon":-43.1,"lat":-4.5},{"lon":-39.4,"lat":-7.5},{"lon":-35.6,"lat":-7.5},
{"lon":-13.1,"lat":10.5},{"lon":13.1,"lat":1.5},{"lon":16.9,"lat":-7.5},{"lon":16.9,"lat":-19.5},{"lon":16.9,"lat":-25.5},{"lon":20.6,"lat":-31.5},{"lon":46.9,"lat":10.5},{"lon":46.9,"lat":7.5},{"lon":-13.1,"lat":22.5},{"lon":54.4,"lat":19.5},{"lon":58.1,"lat":22.5},{"lon":-5.6,"lat":43.5},{"lon":-9.4,"lat":40.5},{"lon":-5.6,"lat":37.5},
{"lon":133.1,"lat":34.5},{"lon":136.9,"lat":37.5},{"lon":125.6,"lat":37.5},{"lon":106.9,"lat":13.5},{"lon":99.4,"lat":13.5},{"lon":103.1,"lat":13.5},{"lon":99.4,"lat":7.5},{"lon":103.1,"lat":-1.5},{"lon":99.4,"lat":1.5},{"lon":110.6,"lat":-7.5},{"lon":121.9,"lat":16.5},{"lon":118.1,"lat":37.5},{"lon":114.4,"lat":25.5},{"lon":110.6,"lat":22.5},
{"lon":118.1,"lat":-22.5},{"lon":114.4,"lat":-25.5},{"lon":118.1,"lat":-31.5},{"lon":129.4,"lat":-13.5},{"lon":133.1,"lat":-13.5},{"lon":144.4,"lat":-16.5},{"lon":125.6,"lat":-16.5},{"lon":140.6,"lat":-13.5},{"lon":170.6,"lat":67.5},{"lon":174.4,"lat":67.5},{"lon":178.1,"lat":67.5},{"lon":88.1,"lat":73.5},{"lon":103.1,"lat":73.5},{"lon":99.4,"lat":79.5}
],
"greyAreas":[
{"k":"g","lon":-73,"lo":78,"hi":78},{"k":"g","lon":-68,"lo":76,"hi":80.5},{"k":"g","lon":-58,"lo":75,"hi":82},{"k":"g","lon":-54,"lo":71,"hi":82.5},{"k":"g","lon":-52,"lo":66,"hi":82.6},{"k":"g","lon":-48,"lo":61,"hi":82.8},{"k":"g","lon":-44,"lo":60,"hi":83},{"k":"g","lon":-41,"lo":63,"hi":83.3},{"k":"g","lon":-32,"lo":68,"hi":83.5},{"k":"g","lon":-22,"lo":70.5,"hi":82.5},{"k":"g","lon":-20,"lo":75,"hi":81.5},{"k":"g","lon":-18,"lo":80,"hi":81.5},{"k":"g","lon":-12,"lo":81.5,"hi":81.5},
{"k":"m","lon":43.5,"lo":-21,"hi":-21},{"k":"m","lon":44,"lo":-25,"hi":-16},{"k":"m","lon":47,"lo":-25,"hi":-14.5},{"k":"m","lon":49.5,"lo":-18,"hi":-12},{"k":"m","lon":50.3,"lo":-16,"hi":-16},
{"k":"b","lon":109,"lo":1.5,"hi":1.5},{"k":"b","lon":110,"lo":-3,"hi":2},{"k":"b","lon":113,"lo":-3.5,"hi":3},{"k":"b","lon":116,"lo":-4,"hi":6},{"k":"b","lon":117.5,"lo":1,"hi":7},{"k":"b","lon":119,"lo":5,"hi":5},
{"k":"n","lon":131,"lo":-1,"hi":-1},{"k":"n","lon":134,"lo":-4,"hi":-1},{"k":"n","lon":138,"lo":-8,"hi":-2},{"k":"n","lon":141,"lo":-9,"hi":-3},{"k":"n","lon":145,"lo":-7,"hi":-5},{"k":"n","lon":146,"lo":-8,"hi":-6},{"k":"n","lon":150.5,"lo":-10.5,"hi":-10.5},
{"k":"z","lon":166.5,"lo":-46,"hi":-46},{"k":"z","lon":170,"lo":-46.5,"hi":-43.5},{"k":"z","lon":172.5,"lo":-44,"hi":-41},{"k":"z","lon":174,"lo":-42,"hi":-42},
{"k":"y","lon":172.7,"lo":-34.5,"hi":-34.5},{"k":"y","lon":174,"lo":-38,"hi":-36},{"k":"y","lon":175,"lo":-41.5,"hi":-37},{"k":"y","lon":178,"lo":-38,"hi":-38},
{"k":"c","lon":155.5,"lo":56,"hi":57},{"k":"c","lon":157,"lo":51,"hi":59.5},{"k":"c","lon":160,"lo":53,"hi":60.5},{"k":"c","lon":162,"lo":55,"hi":60},{"k":"c","lon":164,"lo":59.5,"hi":60},
{"k":"s","lon":11,"lo":79,"hi":79},{"k":"s","lon":15,"lo":77,"hi":79.5},{"k":"s","lon":20,"lo":77.5,"hi":80.5},{"k":"s","lon":24,"lo":78,"hi":78}
],
"coast":[
{"k":1,"lon":-168,"lat":65.5},{"k":1,"lon":-164,"lat":66.5},{"k":1,"lon":-162,"lat":67},{"k":1,"lon":-166,"lat":68.5},{"k":1,"lon":-160,"lat":70.5},{"k":1,"lon":-156,"lat":71.2},{"k":1,"lon":-150,"lat":70.5},{"k":1,"lon":-141,"lat":69.6},{"k":1,"lon":-135,"lat":69},{"k":1,"lon":-128,"lat":70},{"k":1,"lon":-120,"lat":69.5},{"k":1,"lon":-115,"lat":68},{"k":1,"lon":-108,"lat":68},{"k":1,"lon":-100,"lat":68},{"k":1,"lon":-95,"lat":69},{"k":1,"lon":-92,"lat":69.5},{"k":1,"lon":-88,"lat":68.5},{"k":1,"lon":-85,"lat":69.5},{"k":1,"lon":-82,"lat":68},{"k":1,"lon":-86,"lat":66},{"k":1,"lon":-90,"lat":64},{"k":1,"lon":-93,"lat":62},{"k":1,"lon":-94.5,"lat":59},{"k":1,"lon":-92.5,"lat":57},{"k":1,"lon":-88,"lat":56.5},{"k":1,"lon":-85,"lat":55.3},{"k":1,"lon":-82.5,"lat":55},{"k":1,"lon":-82,"lat":52.5},{"k":1,"lon":-79.5,"lat":51.3},{"k":1,"lon":-79,"lat":54},{"k":1,"lon":-77,"lat":56},{"k":1,"lon":-78,"lat":59},{"k":1,"lon":-78,"lat":62},{"k":1,"lon":-73,"lat":62},{"k":1,"lon":-70,"lat":61},{"k":1,"lon":-68,"lat":58.5},{"k":1,"lon":-65,"lat":60},{"k":1,"lon":-62,"lat":57.5},{"k":1,"lon":-58,"lat":54.5},{"k":1,"lon":-56,"lat":52},{"k":1,"lon":-60,"lat":50},{"k":1,"lon":-66,"lat":50},{"k":1,"lon":-69,"lat":48.5},{"k":1,"lon":-65,"lat":49},{"k":1,"lon":-65,"lat":47},{"k":1,"lon":-61,"lat":46},{"k":1,"lon":-64,"lat":44.5},{"k":1,"lon":-66,"lat":44},{"k":1,"lon":-70,"lat":43.5},{"k":1,"lon":-71,"lat":41.5},{"k":1,"lon":-74,"lat":40.5},{"k":1,"lon":-76,"lat":38},{"k":1,"lon":-76,"lat":35},{"k":1,"lon":-79,"lat":33.5},{"k":1,"lon":-81,"lat":31},{"k":1,"lon":-80,"lat":27},{"k":1,"lon":-80.5,"lat":25.2},{"k":1,"lon":-82,"lat":27},{"k":1,"lon":-83,"lat":29.5},{"k":1,"lon":-85,"lat":29.7},{"k":1,"lon":-89,"lat":30},{"k":1,"lon":-90,"lat":29},{"k":1,"lon":-94,"lat":29.5},{"k":1,"lon":-97,"lat":27.5},{"k":1,"lon":-97.5,"lat":24},{"k":1,"lon":-96,"lat":19.5},{"k":1,"lon":-94,"lat":18.2},{"k":1,"lon":-91,"lat":19},{"k":1,"lon":-90,"lat":21},{"k":1,"lon":-87,"lat":21.5},{"k":1,"lon":-88,"lat":16},{"k":1,"lon":-84,"lat":15.5},{"k":1,"lon":-83.5,"lat":11},{"k":1,"lon":-81,"lat":9},{"k":1,"lon":-79,"lat":9.5},{"k":1,"lon":-77.5,"lat":8.5},{"k":1,"lon":-79,"lat":7.5},{"k":1,"lon":-81,"lat":7.5},{"k":1,"lon":-85,"lat":10},{"k":1,"lon":-87.5,"lat":13},{"k":1,"lon":-92,"lat":14.5},{"k":1,"lon":-96,"lat":16},{"k":1,"lon":-101,"lat":17.5},{"k":1,"lon":-105,"lat":19.8},{"k":1,"lon":-106,"lat":23},{"k":1,"lon":-109.5,"lat":26},{"k":1,"lon":-112,"lat":29},{"k":1,"lon":-114.5,"lat":31.5},{"k":1,"lon":-113,"lat":28},{"k":1,"lon":-110,"lat":23.5},{"k":1,"lon":-112,"lat":25},{"k":1,"lon":-115,"lat":29},{"k":1,"lon":-117,"lat":32.5},{"k":1,"lon":-120.5,"lat":34.5},{"k":1,"lon":-122.5,"lat":37.5},{"k":1,"lon":-124,"lat":40.5},{"k":1,"lon":-124,"lat":46},{"k":1,"lon":-123,"lat":48.5},{"k":1,"lon":-125,"lat":50},{"k":1,"lon":-128,"lat":52},{"k":1,"lon":-130,"lat":55},{"k":1,"lon":-134,"lat":58},{"k":1,"lon":-140,"lat":60},{"k":1,"lon":-146,"lat":61},{"k":1,"lon":-151,"lat":60},{"k":1,"lon":-154,"lat":58},{"k":1,"lon":-160,"lat":55.5},{"k":1,"lon":-164,"lat":54.5},{"k":1,"lon":-158,"lat":58},{"k":1,"lon":-162,"lat":59},{"k":1,"lon":-165,"lat":62},{"k":1,"lon":-161,"lat":64},{"k":1,"lon":-168,"lat":65.5},
{"k":2,"lon":-80,"lat":73.5},{"k":2,"lon":-72,"lat":71.5},{"k":2,"lon":-65,"lat":67},{"k":2,"lon":-62,"lat":66},{"k":2,"lon":-66,"lat":62.5},{"k":2,"lon":-72,"lat":64},{"k":2,"lon":-78,"lat":65},{"k":2,"lon":-73,"lat":68},{"k":2,"lon":-80,"lat":70},{"k":2,"lon":-88,"lat":71},{"k":2,"lon":-80,"lat":73.5},
{"k":3,"lon":-117,"lat":70},{"k":3,"lon":-105,"lat":69},{"k":3,"lon":-101,"lat":70},{"k":3,"lon":-105,"lat":73},{"k":3,"lon":-117,"lat":73},{"k":3,"lon":-117,"lat":70},
{"k":4,"lon":-90,"lat":77},{"k":4,"lon":-80,"lat":76.5},{"k":4,"lon":-76,"lat":78.5},{"k":4,"lon":-65,"lat":81.5},{"k":4,"lon":-62,"lat":82.5},{"k":4,"lon":-75,"lat":83},{"k":4,"lon":-92,"lat":81},{"k":4,"lon":-90,"lat":77},
{"k":5,"lon":-125,"lat":72},{"k":5,"lon":-118,"lat":72},{"k":5,"lon":-116,"lat":74},{"k":5,"lon":-124,"lat":74.5},{"k":5,"lon":-125,"lat":72},
{"k":6,"lon":-96,"lat":75},{"k":6,"lon":-80,"lat":74.5},{"k":6,"lon":-80,"lat":76},{"k":6,"lon":-96,"lat":76.5},{"k":6,"lon":-96,"lat":75},
{"k":7,"lon":-87,"lat":65},{"k":7,"lon":-81,"lat":63.5},{"k":7,"lon":-85,"lat":63},{"k":7,"lon":-87,"lat":65},
{"k":8,"lon":-59,"lat":48},{"k":8,"lon":-56,"lat":51.5},{"k":8,"lon":-53,"lat":47},{"k":8,"lon":-59,"lat":48},
{"k":9,"lon":-85,"lat":22},{"k":9,"lon":-80,"lat":23},{"k":9,"lon":-74.5,"lat":20},{"k":9,"lon":-78,"lat":20},{"k":9,"lon":-85,"lat":22},
{"k":10,"lon":-74,"lat":18.5},{"k":10,"lon":-72,"lat":20},{"k":10,"lon":-68.5,"lat":18.5},{"k":10,"lon":-71.5,"lat":18},{"k":10,"lon":-74,"lat":18.5},
{"k":11,"lon":-118,"lat":75},{"k":11,"lon":-106,"lat":75},{"k":11,"lon":-106,"lat":76.5},{"k":11,"lon":-118,"lat":76.5},{"k":11,"lon":-118,"lat":75},
{"k":12,"lon":-73,"lat":78},{"k":12,"lon":-68,"lat":76},{"k":12,"lon":-58,"lat":75},{"k":12,"lon":-54,"lat":71},{"k":12,"lon":-52,"lat":66},{"k":12,"lon":-48,"lat":61},{"k":12,"lon":-44,"lat":60},{"k":12,"lon":-41,"lat":63},{"k":12,"lon":-32,"lat":68},{"k":12,"lon":-22,"lat":70.5},{"k":12,"lon":-20,"lat":75},{"k":12,"lon":-18,"lat":80},{"k":12,"lon":-12,"lat":81.5},
{"k":13,"lon":43.5,"lat":-21},{"k":13,"lon":44,"lat":-16},{"k":13,"lon":49.5,"lat":-12},{"k":13,"lon":50.3,"lat":-16},{"k":13,"lon":47,"lat":-25},{"k":13,"lon":44,"lat":-25},{"k":13,"lon":43.5,"lat":-21},
{"k":14,"lon":109,"lat":1.5},{"k":14,"lon":113,"lat":3},{"k":14,"lon":117,"lat":7},{"k":14,"lon":119,"lat":5},{"k":14,"lon":117.5,"lat":1},{"k":14,"lon":116,"lat":-4},{"k":14,"lon":110,"lat":-3},{"k":14,"lon":109,"lat":1.5},
{"k":15,"lon":131,"lat":-1},{"k":15,"lon":138,"lat":-2},{"k":15,"lon":145,"lat":-5},{"k":15,"lon":150.5,"lat":-10.5},{"k":15,"lon":146,"lat":-8},{"k":15,"lon":141,"lat":-9},{"k":15,"lon":138,"lat":-8},{"k":15,"lon":134,"lat":-4},{"k":15,"lon":131,"lat":-1},
{"k":16,"lon":166.5,"lat":-46},{"k":16,"lon":172.5,"lat":-41},{"k":16,"lon":174,"lat":-42},{"k":16,"lon":170,"lat":-46.5},{"k":16,"lon":166.5,"lat":-46},
{"k":17,"lon":172.7,"lat":-34.5},{"k":17,"lon":178,"lat":-38},{"k":17,"lon":175,"lat":-41.5},{"k":17,"lon":174,"lat":-38},{"k":17,"lon":172.7,"lat":-34.5},
{"k":18,"lon":-77.5,"lat":8.5},{"k":18,"lon":-75.5,"lat":11},{"k":18,"lon":-72,"lat":12},{"k":18,"lon":-68,"lat":11},{"k":18,"lon":-62,"lat":10.5},{"k":18,"lon":-60,"lat":8},{"k":18,"lon":-55,"lat":6},{"k":18,"lon":-51,"lat":4},{"k":18,"lon":-50,"lat":0.5},{"k":18,"lon":-44,"lat":-2.5},{"k":18,"lon":-39,"lat":-3.5},{"k":18,"lon":-35,"lat":-6},{"k":18,"lon":-35,"lat":-9},{"k":18,"lon":-39,"lat":-14},{"k":18,"lon":-39,"lat":-18},{"k":18,"lon":-41,"lat":-22},{"k":18,"lon":-46,"lat":-24},{"k":18,"lon":-48.5,"lat":-27},{"k":18,"lon":-52,"lat":-32.5},{"k":18,"lon":-55,"lat":-35},{"k":18,"lon":-58,"lat":-34.5},{"k":18,"lon":-57,"lat":-38},{"k":18,"lon":-62,"lat":-39},{"k":18,"lon":-65,"lat":-41},{"k":18,"lon":-65,"lat":-45},{"k":18,"lon":-68,"lat":-50},{"k":18,"lon":-68.5,"lat":-52.5},{"k":18,"lon":-65.5,"lat":-55},{"k":18,"lon":-70,"lat":-55.5},{"k":18,"lon":-74,"lat":-52},{"k":18,"lon":-75.5,"lat":-47},{"k":18,"lon":-73.5,"lat":-42},{"k":18,"lon":-73.5,"lat":-37},{"k":18,"lon":-71.5,"lat":-30},{"k":18,"lon":-70,"lat":-20},{"k":18,"lon":-72,"lat":-17},{"k":18,"lon":-76,"lat":-14},{"k":18,"lon":-81,"lat":-6},{"k":18,"lon":-80,"lat":-2.5},{"k":18,"lon":-80,"lat":1},{"k":18,"lon":-77.5,"lat":4},{"k":18,"lon":-77.5,"lat":8.5},
{"k":19,"lon":-6,"lat":35.8},{"k":19,"lon":-2,"lat":35},{"k":19,"lon":3,"lat":37},{"k":19,"lon":10,"lat":37.3},{"k":19,"lon":11,"lat":33.5},{"k":19,"lon":15,"lat":32.3},{"k":19,"lon":20,"lat":31},{"k":19,"lon":22,"lat":33},{"k":19,"lon":25,"lat":31.5},{"k":19,"lon":32,"lat":31},{"k":19,"lon":34,"lat":28},{"k":19,"lon":37,"lat":21},{"k":19,"lon":39,"lat":16},{"k":19,"lon":43,"lat":11.5},{"k":19,"lon":51,"lat":12},{"k":19,"lon":48,"lat":5},{"k":19,"lon":42,"lat":-1},{"k":19,"lon":39,"lat":-6},{"k":19,"lon":40.5,"lat":-15},{"k":19,"lon":35,"lat":-20},{"k":19,"lon":35.5,"lat":-24},{"k":19,"lon":32.5,"lat":-28},{"k":19,"lon":28,"lat":-33},{"k":19,"lon":20,"lat":-35},{"k":19,"lon":18,"lat":-33},{"k":19,"lon":14.5,"lat":-23},{"k":19,"lon":12,"lat":-17},{"k":19,"lon":13.5,"lat":-10},{"k":19,"lon":9,"lat":-1},{"k":19,"lon":9.5,"lat":4},{"k":19,"lon":5,"lat":6},{"k":19,"lon":-4,"lat":5},{"k":19,"lon":-8,"lat":4.5},{"k":19,"lon":-13,"lat":8.5},{"k":19,"lon":-17,"lat":14.5},{"k":19,"lon":-16,"lat":20},{"k":19,"lon":-13,"lat":27},{"k":19,"lon":-10,"lat":31},{"k":19,"lon":-6,"lat":35.8},
{"k":20,"lon":-5.5,"lat":36},{"k":20,"lon":-9,"lat":37},{"k":20,"lon":-9,"lat":43},{"k":20,"lon":-2,"lat":43.5},{"k":20,"lon":-1,"lat":46},{"k":20,"lon":-5,"lat":48.5},{"k":20,"lon":0,"lat":49.5},{"k":20,"lon":4,"lat":52},{"k":20,"lon":8,"lat":54},{"k":20,"lon":8.5,"lat":57},{"k":20,"lon":11,"lat":56},{"k":20,"lon":10,"lat":54},{"k":20,"lon":14,"lat":54},{"k":20,"lon":19,"lat":54.5},{"k":20,"lon":21,"lat":57},{"k":20,"lon":24,"lat":59.5},{"k":20,"lon":30,"lat":60},{"k":20,"lon":23,"lat":60},{"k":20,"lon":21,"lat":63},{"k":20,"lon":25,"lat":65.5},{"k":20,"lon":22,"lat":65.5},{"k":20,"lon":17.5,"lat":62},{"k":20,"lon":18,"lat":59.5},{"k":20,"lon":16,"lat":56},{"k":20,"lon":13,"lat":55.5},{"k":20,"lon":11,"lat":59},{"k":20,"lon":6,"lat":58},{"k":20,"lon":5,"lat":62},{"k":20,"lon":12,"lat":66},{"k":20,"lon":20,"lat":70},{"k":20,"lon":28,"lat":71},{"k":20,"lon":40,"lat":67},{"k":20,"lon":35,"lat":66},{"k":20,"lon":40,"lat":64.5},{"k":20,"lon":44,"lat":68},{"k":20,"lon":54,"lat":68.5},{"k":20,"lon":68,"lat":68.5},{"k":20,"lon":67,"lat":72},{"k":20,"lon":73,"lat":73},{"k":20,"lon":74,"lat":68},{"k":20,"lon":75,"lat":72.5},{"k":20,"lon":86,"lat":74},{"k":20,"lon":100,"lat":76},{"k":20,"lon":105,"lat":77.5},{"k":20,"lon":113,"lat":74},{"k":20,"lon":130,"lat":71},{"k":20,"lon":140,"lat":72.5},{"k":20,"lon":160,"lat":70},{"k":20,"lon":170,"lat":70},{"k":20,"lon":180,"lat":69},
{"k":21,"lon":180,"lat":65},{"k":21,"lon":179,"lat":62.5},{"k":21,"lon":170,"lat":60},{"k":21,"lon":164,"lat":59.5},{"k":21,"lon":162,"lat":55},{"k":21,"lon":157,"lat":51},{"k":21,"lon":155.5,"lat":56},{"k":21,"lon":159,"lat":61},{"k":21,"lon":155,"lat":59.5},{"k":21,"lon":143,"lat":59},{"k":21,"lon":135,"lat":54.5},{"k":21,"lon":141,"lat":53},{"k":21,"lon":140,"lat":48},{"k":21,"lon":135,"lat":43.5},{"k":21,"lon":130,"lat":42.5},{"k":21,"lon":127.5,"lat":39.5},{"k":21,"lon":129,"lat":36},{"k":21,"lon":126.5,"lat":34.5},{"k":21,"lon":126,"lat":37.5},{"k":21,"lon":125,"lat":39.5},{"k":21,"lon":121,"lat":39},{"k":21,"lon":118,"lat":39},{"k":21,"lon":122,"lat":37},{"k":21,"lon":119.5,"lat":34.5},{"k":21,"lon":122,"lat":31},{"k":21,"lon":120,"lat":26},{"k":21,"lon":114,"lat":22.5},{"k":21,"lon":110,"lat":21},{"k":21,"lon":106,"lat":20},{"k":21,"lon":109,"lat":13},{"k":21,"lon":105,"lat":9},{"k":21,"lon":102,"lat":12.5},{"k":21,"lon":100,"lat":13.5},{"k":21,"lon":99.5,"lat":9},{"k":21,"lon":103,"lat":4},{"k":21,"lon":104,"lat":1.5},{"k":21,"lon":101,"lat":3},{"k":21,"lon":98.5,"lat":8},{"k":21,"lon":98,"lat":15},{"k":21,"lon":94.5,"lat":16},{"k":21,"lon":94,"lat":19},{"k":21,"lon":91,"lat":22.5},{"k":21,"lon":87,"lat":21},{"k":21,"lon":80.5,"lat":15.5},{"k":21,"lon":80,"lat":12},{"k":21,"lon":77.5,"lat":8},{"k":21,"lon":73.5,"lat":17},{"k":21,"lon":72.5,"lat":21},{"k":21,"lon":69,"lat":22},{"k":21,"lon":67,"lat":25},{"k":21,"lon":61,"lat":25},{"k":21,"lon":57,"lat":26.5},{"k":21,"lon":54,"lat":26.5},{"k":21,"lon":50,"lat":30},{"k":21,"lon":48,"lat":29.5},{"k":21,"lon":51,"lat":25},{"k":21,"lon":54,"lat":24},{"k":21,"lon":56.5,"lat":26},{"k":21,"lon":60,"lat":22.5},{"k":21,"lon":55,"lat":17},{"k":21,"lon":45,"lat":13},{"k":21,"lon":43,"lat":14},{"k":21,"lon":39,"lat":21},{"k":21,"lon":35,"lat":28},{"k":21,"lon":34.5,"lat":31},{"k":21,"lon":36,"lat":36},{"k":21,"lon":30,"lat":36.5},{"k":21,"lon":26.5,"lat":39},{"k":21,"lon":29,"lat":41},{"k":21,"lon":35,"lat":42},{"k":21,"lon":41.5,"lat":41.5},{"k":21,"lon":37,"lat":45},{"k":21,"lon":33.5,"lat":46},{"k":21,"lon":30,"lat":45.5},{"k":21,"lon":28,"lat":42},{"k":21,"lon":26,"lat":40.5},{"k":21,"lon":23,"lat":40},{"k":21,"lon":24,"lat":37.5},{"k":21,"lon":21.5,"lat":37},{"k":21,"lon":19.5,"lat":41},{"k":21,"lon":14,"lat":45},{"k":21,"lon":12.5,"lat":44},{"k":21,"lon":18,"lat":40},{"k":21,"lon":15.5,"lat":38},{"k":21,"lon":11,"lat":42.5},{"k":21,"lon":8.5,"lat":44},{"k":21,"lon":3,"lat":43},{"k":21,"lon":0,"lat":39.5},{"k":21,"lon":-2,"lat":36.7},{"k":21,"lon":-5.5,"lat":36},
{"k":22,"lon":-180,"lat":69},{"k":22,"lon":-175,"lat":67},{"k":22,"lon":-170,"lat":66},{"k":22,"lon":-173,"lat":64.5},{"k":22,"lon":-180,"lat":65},
{"k":23,"lon":47,"lat":45},{"k":23,"lon":51,"lat":47},{"k":23,"lon":53,"lat":45},{"k":23,"lon":51,"lat":44},{"k":23,"lon":54,"lat":40},{"k":23,"lon":54,"lat":37},{"k":23,"lon":50,"lat":37.5},{"k":23,"lon":49,"lat":40},{"k":23,"lon":47,"lat":45},
{"k":24,"lon":58.5,"lat":46},{"k":24,"lon":61,"lat":46},{"k":24,"lon":60,"lat":44},{"k":24,"lon":58.5,"lat":46},
{"k":25,"lon":104,"lat":51.7},{"k":25,"lon":110,"lat":55.5},{"k":25,"lon":108,"lat":52.5},{"k":25,"lon":104,"lat":51.7},
{"k":26,"lon":-92,"lat":46.7},{"k":26,"lon":-85,"lat":47.5},{"k":26,"lon":-85,"lat":46.5},{"k":26,"lon":-92,"lat":46.7},
{"k":27,"lon":-87.5,"lat":42},{"k":27,"lon":-85.5,"lat":45.5},{"k":27,"lon":-87,"lat":45.5},{"k":27,"lon":-87.5,"lat":42},
{"k":28,"lon":-84,"lat":46},{"k":28,"lon":-80,"lat":45},{"k":28,"lon":-82,"lat":43},{"k":28,"lon":-84,"lat":46},
{"k":29,"lon":31.7,"lat":-2},{"k":29,"lon":33,"lat":0.5},{"k":29,"lon":34,"lat":-1},{"k":29,"lon":33,"lat":-2.5},{"k":29,"lon":31.7,"lat":-2},
{"k":30,"lon":29.5,"lat":-4},{"k":30,"lon":30.5,"lat":-8},
{"k":31,"lon":34.5,"lat":-10},{"k":31,"lon":34.7,"lat":-14},
{"k":32,"lon":-5,"lat":50},{"k":32,"lon":1,"lat":51},{"k":32,"lon":-1,"lat":54.5},{"k":32,"lon":-3,"lat":58.5},{"k":32,"lon":-6,"lat":57},{"k":32,"lon":-3,"lat":54},{"k":32,"lon":-5,"lat":52},{"k":32,"lon":-5,"lat":50},
{"k":33,"lon":-10,"lat":52},{"k":33,"lon":-6,"lat":52.5},{"k":33,"lon":-6,"lat":55},{"k":33,"lon":-9,"lat":54.5},{"k":33,"lon":-10,"lat":52},
{"k":34,"lon":-24,"lat":65.5},{"k":34,"lon":-18,"lat":66.5},{"k":34,"lon":-14,"lat":65},{"k":34,"lon":-18,"lat":63.5},{"k":34,"lon":-22,"lat":64},{"k":34,"lon":-24,"lat":65.5},
{"k":35,"lon":11,"lat":79},{"k":35,"lon":20,"lat":80.5},{"k":35,"lon":24,"lat":78},{"k":35,"lon":15,"lat":77},{"k":35,"lon":11,"lat":79},
{"k":36,"lon":52,"lat":71},{"k":36,"lon":58,"lat":70.5},{"k":36,"lon":68,"lat":76.8},{"k":36,"lon":60,"lat":76},{"k":36,"lon":52,"lat":71},
{"k":37,"lon":142,"lat":54},{"k":37,"lon":143,"lat":50},{"k":37,"lon":143,"lat":46},{"k":37,"lon":142,"lat":50},{"k":37,"lon":142,"lat":54},
{"k":38,"lon":130,"lat":33},{"k":38,"lon":131,"lat":31},{"k":38,"lon":135,"lat":34},{"k":38,"lon":140,"lat":35},{"k":38,"lon":142,"lat":39},{"k":38,"lon":141,"lat":41},{"k":38,"lon":139,"lat":38},{"k":38,"lon":136,"lat":36},{"k":38,"lon":131,"lat":34.5},{"k":38,"lon":130,"lat":33},
{"k":39,"lon":140,"lat":42},{"k":39,"lon":142,"lat":45.5},{"k":39,"lon":145,"lat":43},{"k":39,"lon":141,"lat":42},
{"k":40,"lon":80,"lat":9.5},{"k":40,"lon":82,"lat":7},{"k":40,"lon":80.5,"lat":6},{"k":40,"lon":80,"lat":9.5},
{"k":41,"lon":120,"lat":18},{"k":41,"lon":122,"lat":18},{"k":41,"lon":124,"lat":13},{"k":41,"lon":121,"lat":13},{"k":41,"lon":120,"lat":18},
{"k":42,"lon":122,"lat":7},{"k":42,"lon":126,"lat":9.5},{"k":42,"lon":126,"lat":6},{"k":42,"lon":122,"lat":7},
{"k":43,"lon":95.5,"lat":5.5},{"k":43,"lon":100,"lat":2},{"k":43,"lon":106,"lat":-3},{"k":43,"lon":105,"lat":-6},{"k":43,"lon":101,"lat":-3},{"k":43,"lon":97,"lat":2},{"k":43,"lon":95.5,"lat":5.5},
{"k":44,"lon":105.5,"lat":-6.5},{"k":44,"lon":114,"lat":-7},{"k":44,"lon":114.5,"lat":-8.5},{"k":44,"lon":106,"lat":-7.5},{"k":44,"lon":105.5,"lat":-6.5},
{"k":45,"lon":120,"lat":1},{"k":45,"lon":125,"lat":1.5},{"k":45,"lon":121,"lat":-1},{"k":45,"lon":123,"lat":-5},{"k":45,"lon":120,"lat":-5.5},{"k":45,"lon":119.5,"lat":-2},{"k":45,"lon":120,"lat":1},
{"k":46,"lon":145,"lat":-41},{"k":46,"lon":148,"lat":-41},{"k":46,"lon":147.5,"lat":-43.5},{"k":46,"lon":146,"lat":-43.5},{"k":46,"lon":145,"lat":-41},
{"k":47,"lon":114,"lat":-22},{"k":47,"lon":122,"lat":-18},{"k":47,"lon":125,"lat":-14.5},{"k":47,"lon":130,"lat":-12},{"k":47,"lon":136,"lat":-12},{"k":47,"lon":136,"lat":-15},{"k":47,"lon":140,"lat":-17.5},{"k":47,"lon":142,"lat":-11},{"k":47,"lon":145,"lat":-15},{"k":47,"lon":147,"lat":-19.5},{"k":47,"lon":153,"lat":-26},{"k":47,"lon":153,"lat":-31},{"k":47,"lon":150,"lat":-37},{"k":47,"lon":146.5,"lat":-39},{"k":47,"lon":143,"lat":-38.7},{"k":47,"lon":140,"lat":-38},{"k":47,"lon":136,"lat":-35},{"k":47,"lon":134,"lat":-32},{"k":47,"lon":129,"lat":-31.5},{"k":47,"lon":124,"lat":-33},{"k":47,"lon":118,"lat":-35},{"k":47,"lon":115,"lat":-34},{"k":47,"lon":115,"lat":-30},{"k":47,"lon":113.5,"lat":-25},{"k":47,"lon":114,"lat":-22},
{"k":48,"lon":-178,"lat":52},{"k":48,"lon":-170,"lat":53},{"k":48,"lon":-165,"lat":54.5},
{"k":49,"lon":155,"lat":-6},{"k":49,"lon":160,"lat":-9},
{"k":50,"lon":137,"lat":75.5},{"k":50,"lon":145,"lat":75},{"k":50,"lon":150,"lat":75},
{"k":51,"lon":-61,"lat":-51.5},{"k":51,"lon":-58,"lat":-51.5},
{"k":52,"lon":-37,"lat":-54.5},{"k":52,"lon":-36,"lat":-54.5},
{"k":53,"lon":69,"lat":-49},{"k":53,"lon":70,"lat":-49.5},
{"k":54,"lon":-157,"lat":21},{"k":54,"lon":-155,"lat":19.5},
{"k":55,"lon":164,"lat":-20},{"k":55,"lon":167,"lat":-22},
{"k":56,"lon":177,"lat":-17.5},{"k":56,"lon":179,"lat":-17},
{"k":57,"lon":121,"lat":25},{"k":57,"lon":121,"lat":22},
{"k":58,"lon":-91,"lat":-0.5},{"k":58,"lon":-90,"lat":-0.8},
{"k":59,"lon":-172,"lat":-13.5},{"k":59,"lon":-171,"lat":-14}
],
"contours":[
{"k":1,"lon":-115.2,"lat":53.3},{"k":1,"lon":-110,"lat":54.3},{"k":1,"lon":-105,"lat":52.2},{"k":1,"lon":-99.8,"lat":49.2},{"k":1,"lon":-96.8,"lat":46.1},{"k":1,"lon":-90.6,"lat":44.7},{"k":1,"lon":-79.4,"lat":44.1},{"k":1,"lon":-84.5,"lat":36.9},{"k":1,"lon":-92.7,"lat":30.8},{"k":1,"lon":-99.8,"lat":28.8},{"k":1,"lon":-99.8,"lat":36.9},{"k":1,"lon":-102.9,"lat":41},{"k":1,"lon":-105,"lat":43.1},{"k":1,"lon":-111,"lat":42.7},{"k":1,"lon":-115.2,"lat":48.2},{"k":1,"lon":-115.2,"lat":53.3},
{"k":2,"lon":-125.4,"lat":46.1},{"k":2,"lon":-118.2,"lat":46.5},{"k":2,"lon":-122.3,"lat":44.1},{"k":2,"lon":-123.8,"lat":40},{"k":2,"lon":-125.8,"lat":42},{"k":2,"lon":-125.4,"lat":46.1},
{"k":3,"lon":-120.8,"lat":55.9},{"k":3,"lon":-119.3,"lat":57.2},{"k":3,"lon":-117.8,"lat":55.9},{"k":3,"lon":-119.3,"lat":54.6},{"k":3,"lon":-120.8,"lat":55.9},
{"k":4,"lon":-75.5,"lat":46.3},{"k":4,"lon":-74,"lat":47.6},{"k":4,"lon":-72.5,"lat":46.3},{"k":4,"lon":-74,"lat":45},{"k":4,"lon":-75.5,"lat":46.3},
{"k":5,"lon":7.4,"lat":50.8},{"k":5,"lon":12.5,"lat":53.8},{"k":5,"lon":15.6,"lat":54.9},{"k":5,"lon":21.7,"lat":56.9},{"k":5,"lon":27.9,"lat":53.8},{"k":5,"lon":38.1,"lat":53.8},{"k":5,"lon":43.2,"lat":57.9},{"k":5,"lon":56.5,"lat":58.3},{"k":5,"lon":72.9,"lat":57.9},{"k":5,"lon":74.5,"lat":55.9},{"k":5,"lon":68.8,"lat":54.9},{"k":5,"lon":60.6,"lat":54.9},{"k":5,"lon":48.3,"lat":52.8},{"k":5,"lon":45.3,"lat":50.8},{"k":5,"lon":38.1,"lat":47.7},{"k":5,"lon":27.9,"lat":46.7},{"k":5,"lon":24.8,"lat":42.6},{"k":5,"lon":20.7,"lat":42.6},{"k":5,"lon":14.6,"lat":44.7},{"k":5,"lon":10.5,"lat":45.7},{"k":5,"lon":8.5,"lat":45.1},{"k":5,"lon":11,"lat":47.5},{"k":5,"lon":15.6,"lat":49.8},{"k":5,"lon":7.4,"lat":50.8},
{"k":6,"lon":40.1,"lat":47.1},{"k":6,"lon":46.3,"lat":41.6},{"k":6,"lon":44.2,"lat":40.6},{"k":6,"lon":39.1,"lat":46.3},{"k":6,"lon":40.1,"lat":47.1},
{"k":7,"lon":82,"lat":53.8},{"k":7,"lon":83.5,"lat":55.1},{"k":7,"lon":85,"lat":53.8},{"k":7,"lon":83.5,"lat":52.5},{"k":7,"lon":82,"lat":53.8},
{"k":8,"lon":78,"lat":29.4},{"k":8,"lon":82,"lat":27.3},{"k":8,"lon":85.1,"lat":30},{"k":8,"lon":88.2,"lat":27.3},{"k":8,"lon":90.9,"lat":28.9},{"k":8,"lon":92.9,"lat":23.2},{"k":8,"lon":85.1,"lat":18.1},{"k":8,"lon":80,"lat":11},{"k":8,"lon":79,"lat":10},{"k":8,"lon":74.9,"lat":16.1},{"k":8,"lon":73.9,"lat":21.2},{"k":8,"lon":78,"lat":22.2},{"k":8,"lon":78,"lat":29.4},
{"k":9,"lon":94.5,"lat":31.2},{"k":9,"lon":96,"lat":32.6},{"k":9,"lon":97.5,"lat":31.2},{"k":9,"lon":96,"lat":29.8},{"k":9,"lon":94.5,"lat":31.2},
{"k":10,"lon":94.5,"lat":21.2},{"k":10,"lon":96,"lat":22.6},{"k":10,"lon":97.5,"lat":21.2},{"k":10,"lon":96,"lat":19.8},{"k":10,"lon":94.5,"lat":21.2},
{"k":11,"lon":102.1,"lat":36.5},{"k":11,"lon":109.7,"lat":36.5},{"k":11,"lon":111.7,"lat":34},{"k":11,"lon":109.7,"lat":31.4},{"k":11,"lon":108.7,"lat":28.3},{"k":11,"lon":109.7,"lat":22.2},{"k":11,"lon":102.5,"lat":22.6},{"k":11,"lon":101.5,"lat":28.3},{"k":11,"lon":102.1,"lat":36.5},
{"k":12,"lon":98.4,"lat":18.1},{"k":12,"lon":104.6,"lat":17.1},{"k":12,"lon":107.6,"lat":11},{"k":12,"lon":103.5,"lat":13},{"k":12,"lon":98.4,"lat":15.1},{"k":12,"lon":98.4,"lat":18.1}
],
"dots":[
{"lon":-110.5,"lat":51.2},{"lon":-107,"lat":49.8},{"lon":-101.9,"lat":48.4},{"lon":-109,"lat":53.9},{"lon":-112.5,"lat":53.9},{"lon":-100.9,"lat":42.7},{"lon":-98.8,"lat":44.7},{"lon":-96.2,"lat":45.7},{"lon":-93.7,"lat":44.3},{"lon":-91.2,"lat":45.7},{"lon":-98.2,"lat":40.6},{"lon":-95.7,"lat":41.6},{"lon":-92.7,"lat":42.7},{"lon":-90.6,"lat":40.6},{"lon":-93.7,"lat":39.6},{"lon":-96.8,"lat":37.5},{"lon":-99.8,"lat":37.5},{"lon":-92.7,"lat":35.5},{"lon":-89.2,"lat":38.6},{"lon":-86.5,"lat":37.5},{"lon":-110,"lat":35.9},{"lon":-85.5,"lat":42.7},
{"lon":29.9,"lat":55.3},{"lon":33.6,"lat":55.3},{"lon":49.3,"lat":55.3},{"lon":56.5,"lat":55.3},{"lon":69.8,"lat":55.3},{"lon":33,"lat":52.8},{"lon":36.7,"lat":52.8},{"lon":40.1,"lat":52.8},{"lon":44.2,"lat":52.8},{"lon":48.3,"lat":52.8},{"lon":52.8,"lat":52.8},{"lon":57.5,"lat":52.8},{"lon":60.6,"lat":52.8},{"lon":29.9,"lat":50.8},{"lon":36,"lat":50.8},{"lon":54.9,"lat":49.6},{"lon":58.6,"lat":49.6},{"lon":66.7,"lat":49.6},{"lon":23.2,"lat":45.3},{"lon":36.7,"lat":46.3}
],
"frames":[
{"lon":-180,"lon2":180,"lat":-60,"lat2":90},{"lon":-130.3,"lon2":-57.3,"lat":27.5,"lat2":56.9},{"lon":7,"lon2":89.8,"lat":39.6,"lat2":62.4},{"lon":62.2,"lon2":114.8,"lat":4.9,"lat2":37.5}
],
"connectors":[
{"k":"a","lon":-137,"lat":173.3},{"k":"a","lon":-108.9,"lat":56.9},{"k":"b","lon":183,"lat":174.5},{"k":"b","lon":89.8,"lat":62.4},{"k":"c","lon":115,"lat":6.7},{"k":"c","lon":183.7,"lat":-83.9}
],
"bar":[{"v":-1.025},{"v":-0.975},{"v":-0.925},{"v":-0.875},{"v":-0.825},{"v":-0.775},{"v":-0.725},{"v":-0.675},{"v":-0.625},{"v":-0.575},{"v":-0.525},{"v":-0.475},{"v":-0.425},{"v":-0.375},{"v":-0.325},{"v":-0.275},{"v":-0.225},{"v":-0.175},{"v":-0.125},{"v":-0.075},{"v":-0.025},{"v":0.025},{"v":0.075},{"v":0.125},{"v":0.175},{"v":0.225},{"v":0.275},{"v":0.325},{"v":0.375},{"v":0.425},{"v":0.475},{"v":0.525},{"v":0.575},{"v":0.625},{"v":0.675},{"v":0.725},{"v":0.775},{"v":0.825},{"v":0.875},{"v":0.925},{"v":0.975},{"v":1.025}],
"key":[{"season":"JJA","kind":"other forcings"},{"season":"TXx","kind":"other forcings"},{"season":"JJA","kind":"deforestation"},{"season":"TXx","kind":"deforestation"}]
},
"layer":[
{"layer":[
{"data":{"name":"greyAreas"},"mark":{"type":"area","fill":"#c9c9c9"},"encoding":{"x":{"field":"lon","type":"quantitative","axis":null,"scale":{"domain":[-180,180],"range":[281,868],"nice":false,"zero":false}},"y":{"field":"lo","type":"quantitative","axis":null,"scale":{"domain":[-60,90],"range":[561,316],"nice":false,"zero":false}},"y2":{"field":"hi"},"detail":{"field":"k"}}},
{"data":{"name":"mask"},"mark":{"type":"rect","width":6.2,"height":5,"fill":"#c9c9c9"},"encoding":{"x":{"field":"lon","type":"quantitative"},"y":{"field":"lat","type":"quantitative"}}},
{"data":{"name":"cells"},"mark":{"type":"rect","width":6.2,"height":5},"encoding":{"x":{"field":"lon","type":"quantitative"},"y":{"field":"lat","type":"quantitative"},"color":{"field":"v","type":"quantitative","legend":null,"scale":{"type":"threshold","domain":[-1,-0.95,-0.9,-0.85,-0.8,-0.75,-0.7,-0.65,-0.6,-0.55,-0.5,-0.45,-0.4,-0.35,-0.3,-0.25,-0.2,-0.15,-0.1,-0.05,0,0.05,0.1,0.15,0.2,0.25,0.3,0.35,0.4,0.45,0.5,0.55,0.6,0.65,0.7,0.75,0.8,0.85,0.9,0.95,1],"range":["#3D4FC3","#4358C8","#4A62D0","#4F6AD6","#5672DC","#5A79E1","#6180E6","#6A8BEB","#7194EF","#7A9CF2","#82A4F5","#8BABF7","#94B3F9","#9DBAFA","#A6C1FA","#AFC8F9","#B8CFF8","#C1D4F5","#C9DAF2","#D2DEEE","#FFFFFF","#FFFFFF","#ECD2C4","#F2C8B4","#F4C2AC","#F5BBA2","#F6B498","#F7AE90","#F6A587","#F59D7E","#F39574","#F18D6B","#EE8463","#EB7B5A","#E87252","#E36849","#DE5E42","#D8553C","#D14B36","#C83E32","#BC2A2A","#B00B26"]}}}},
{"data":{"name":"coast"},"transform":[{"window":[{"op":"row_number","as":"i"}]}],"mark":{"type":"line","stroke":"black","strokeWidth":1.4,"interpolate":"linear"},"encoding":{"x":{"field":"lon","type":"quantitative"},"y":{"field":"lat","type":"quantitative"},"detail":{"field":"k"},"order":{"field":"i","type":"quantitative"}}},
{"data":{"name":"contours"},"transform":[{"window":[{"op":"row_number","as":"i"}]}],"mark":{"type":"line","stroke":"#15781f","strokeWidth":1.8},"encoding":{"x":{"field":"lon","type":"quantitative"},"y":{"field":"lat","type":"quantitative"},"detail":{"field":"k"},"order":{"field":"i","type":"quantitative"}}},
{"data":{"name":"dots"},"mark":{"type":"point","filled":true,"fill":"black","stroke":null,"size":8,"opacity":1},"encoding":{"x":{"field":"lon","type":"quantitative"},"y":{"field":"lat","type":"quantitative"}}},
{"data":{"name":"frames"},"mark":{"type":"rect","fill":null,"stroke":"black","strokeWidth":2.2},"encoding":{"x":{"field":"lon","type":"quantitative"},"x2":{"field":"lon2"},"y":{"field":"lat","type":"quantitative"},"y2":{"field":"lat2"}}},
{"data":{"name":"connectors"},"mark":{"type":"line","stroke":"black","strokeWidth":2.2},"encoding":{"x":{"field":"lon","type":"quantitative"},"y":{"field":"lat","type":"quantitative"},"detail":{"field":"k"}}},
{"data":{"values":[{"t":"TXx"}]},"mark":{"type":"text","fontSize":32,"fontWeight":"bold","font":"Liberation Sans","color":"black"},"encoding":{"x":{"datum":0,"type":"quantitative"},"y":{"datum":110,"type":"quantitative"},"text":{"field":"t"}}}
]},
{"layer":[
{"data":{"name":"bars"},"transform":[{"filter":"datum.r=='NA'"}],"mark":{"type":"bar","width":9.5,"stroke":"black","strokeWidth":1.3,"fill":{"expr":"datum.season=='JJA'?'#ffb300':'#de0000'"}},"encoding":{"x":{"field":"model","type":"nominal","sort":null,"scale":{"domain":["CanESM2","IPSL-CM5A-LR","IPSL-CM5A-MR","MPI-ESM-LR","MPI-ESM-MR","M-M M"],"range":[76,352],"paddingInner":0,"paddingOuter":0.0667,"align":0.25},"axis":{"orient":"bottom","offset":-685,"title":null,"labelAngle":-45,"labelAlign":"right","labelBaseline":"middle","labelFontSize":20.5,"labelFont":"Liberation Sans","labelColor":"black","labelPadding":8,"tickSize":8,"tickWidth":2,"tickColor":"black","domainWidth":2,"domainColor":"black","labelOverlap":false,"grid":false}},"xOffset":{"field":"season","type":"nominal","scale":{"domain":["JJA","TXx"],"paddingInner":0,"paddingOuter":0.5}},"y":{"field":"top","type":"quantitative","stack":null,"scale":{"domain":[-1,2],"range":[180,42.7],"nice":false,"zero":false},"axis":{"orient":"left","offset":-76,"values":[-1,0,1,2],"labelExpr":"''+datum.value","title":"δTX (°C)","titleFontSize":21,"titleFontWeight":"normal","titleFont":"Liberation Sans","titleColor":"black","titlePadding":16,"titleY":105,"labelFontSize":21,"labelFont":"Liberation Sans","labelColor":"black","labelPadding":4,"tickSize":8,"tickWidth":2,"tickColor":"black","domainWidth":2,"domainColor":"black","grid":true,"gridWidth":1.4,"gridColor":{"condition":{"test":"datum.value===0","value":"black"},"value":"transparent"}}},"y2":{"field":"base"}}},
{"data":{"name":"bars"},"transform":[{"filter":"datum.r=='NA'"}],"mark":{"type":"bar","width":9.5,"stroke":"black","strokeWidth":1.3,"fill":{"expr":"{gradient:'linear',x1:0,y1:0,x2:130*9.5/(90.25+pow(abs(datum.other)*45.8,2)),y2:130*abs(datum.other)*45.8/(90.25+pow(abs(datum.other)*45.8,2)),stops:datum.season=='JJA'?hatchO:hatchR}"}},"encoding":{"x":{"field":"model","type":"nominal","sort":null},"xOffset":{"field":"season","type":"nominal"},"y":{"field":"other","type":"quantitative","stack":null},"y2":{"datum":0}}},
{"data":{"name":"bars"},"transform":[{"filter":"datum.r=='NA'"}],"mark":{"type":"rule","stroke":"black","strokeWidth":1.2},"encoding":{"x":{"field":"model","type":"nominal","sort":null},"xOffset":{"field":"season","type":"nominal"},"y":{"field":"lo","type":"quantitative"},"y2":{"field":"hi"}}},
{"data":{"values":[{"t":"North America"}]},"mark":{"type":"text","fontSize":23,"dx":22,"font":"Liberation Sans","color":"black"},"encoding":{"x":{"datum":"IPSL-CM5A-MR","type":"nominal"},"y":{"datum":2.47,"type":"quantitative"},"text":{"field":"t"}}}
]},
{"layer":[
{"data":{"name":"bars"},"transform":[{"filter":"datum.r=='EU'"}],"mark":{"type":"bar","width":9.5,"stroke":"black","strokeWidth":1.3,"fill":{"expr":"datum.season=='JJA'?'#ffb300':'#de0000'"}},"encoding":{"x":{"field":"model","type":"nominal","sort":null,"scale":{"domain":["CanESM2","IPSL-CM5A-LR","IPSL-CM5A-MR","MPI-ESM-LR","MPI-ESM-MR","M-M M"],"range":[873.3,1150],"paddingInner":0,"paddingOuter":0.0744,"align":0.33},"axis":{"orient":"bottom","offset":-687.3,"title":null,"labelAngle":-45,"labelAlign":"right","labelBaseline":"middle","labelFontSize":20.5,"labelFont":"Liberation Sans","labelColor":"black","labelPadding":8,"tickSize":8,"tickWidth":2,"tickColor":"black","domainWidth":2,"domainColor":"black","labelOverlap":false,"grid":false}},"xOffset":{"field":"season","type":"nominal","scale":{"domain":["JJA","TXx"],"paddingInner":0,"paddingOuter":0.5}},"y":{"field":"top","type":"quantitative","stack":null,"scale":{"domain":[-1,2],"range":[177.7,40],"nice":false,"zero":false},"axis":{"orient":"left","offset":-873.3,"values":[-1,0,1,2],"labelExpr":"''+datum.value","title":"δTX (°C)","titleFontSize":21,"titleFontWeight":"normal","titleFont":"Liberation Sans","titleColor":"black","titlePadding":16,"titleY":105,"labelFontSize":21,"labelFont":"Liberation Sans","labelColor":"black","labelPadding":4,"tickSize":8,"tickWidth":2,"tickColor":"black","domainWidth":2,"domainColor":"black","grid":true,"gridWidth":1.4,"gridColor":{"condition":{"test":"datum.value===0","value":"black"},"value":"transparent"}}},"y2":{"field":"base"}}},
{"data":{"name":"bars"},"transform":[{"filter":"datum.r=='EU'"}],"mark":{"type":"bar","width":9.5,"stroke":"black","strokeWidth":1.3,"fill":{"expr":"{gradient:'linear',x1:0,y1:0,x2:130*9.5/(90.25+pow(abs(datum.other)*45.8,2)),y2:130*abs(datum.other)*45.8/(90.25+pow(abs(datum.other)*45.8,2)),stops:datum.season=='JJA'?hatchO:hatchR}"}},"encoding":{"x":{"field":"model","type":"nominal","sort":null},"xOffset":{"field":"season","type":"nominal"},"y":{"field":"other","type":"quantitative","stack":null},"y2":{"datum":0}}},
{"data":{"name":"bars"},"transform":[{"filter":"datum.r=='EU'"}],"mark":{"type":"rule","stroke":"black","strokeWidth":1.2},"encoding":{"x":{"field":"model","type":"nominal","sort":null},"xOffset":{"field":"season","type":"nominal"},"y":{"field":"lo","type":"quantitative"},"y2":{"field":"hi"}}},
{"data":{"values":[{"t":"Eurasia"}]},"mark":{"type":"text","fontSize":23,"dx":9,"font":"Liberation Sans","color":"black"},"encoding":{"x":{"datum":"IPSL-CM5A-MR","type":"nominal"},"y":{"datum":2.45,"type":"quantitative"},"text":{"field":"t"}}}
]},
{"layer":[
{"data":{"name":"bars"},"transform":[{"filter":"datum.r=='SA'"}],"mark":{"type":"bar","width":9.5,"stroke":"black","strokeWidth":1.3,"fill":{"expr":"datum.season=='JJA'?'#ffb300':'#de0000'"}},"encoding":{"x":{"field":"model","type":"nominal","sort":null,"scale":{"domain":["CanESM2","IPSL-CM5A-LR","IPSL-CM5A-MR","MPI-ESM-LR","MPI-ESM-MR","M-M M"],"range":[874.3,1150.5],"paddingInner":0,"paddingOuter":0.0689,"align":0.33},"axis":{"orient":"bottom","offset":-126.7,"title":null,"labelAngle":-45,"labelAlign":"right","labelBaseline":"middle","labelFontSize":20.5,"labelFont":"Liberation Sans","labelColor":"black","labelPadding":8,"tickSize":8,"tickWidth":2,"tickColor":"black","domainWidth":2,"domainColor":"black","labelOverlap":false,"grid":false}},"xOffset":{"field":"season","type":"nominal","scale":{"domain":["JJA","TXx"],"paddingInner":0,"paddingOuter":0.5}},"y":{"field":"top","type":"quantitative","stack":null,"scale":{"domain":[-1,2],"range":[738.3,600],"nice":false,"zero":false},"axis":{"orient":"left","offset":-874.3,"values":[-1,0,1,2],"labelExpr":"''+datum.value","title":"δTX (°C)","titleFontSize":21,"titleFontWeight":"normal","titleFont":"Liberation Sans","titleColor":"black","titlePadding":12,"titleY":665,"labelFontSize":21,"labelFont":"Liberation Sans","labelColor":"black","labelPadding":4,"tickSize":8,"tickWidth":2,"tickColor":"black","domainWidth":2,"domainColor":"black","grid":true,"gridWidth":1.4,"gridColor":{"condition":{"test":"datum.value===0","value":"black"},"value":"transparent"}}},"y2":{"field":"base"}}},
{"data":{"name":"bars"},"transform":[{"filter":"datum.r=='SA'"}],"mark":{"type":"bar","width":9.5,"stroke":"black","strokeWidth":1.3,"fill":{"expr":"{gradient:'linear',x1:0,y1:0,x2:130*9.5/(90.25+pow(abs(datum.other)*45.8,2)),y2:130*abs(datum.other)*45.8/(90.25+pow(abs(datum.other)*45.8,2)),stops:datum.season=='JJA'?hatchO:hatchR}"}},"encoding":{"x":{"field":"model","type":"nominal","sort":null},"xOffset":{"field":"season","type":"nominal"},"y":{"field":"other","type":"quantitative","stack":null},"y2":{"datum":0}}},
{"data":{"name":"bars"},"transform":[{"filter":"datum.r=='SA'"}],"mark":{"type":"rule","stroke":"#333","strokeWidth":1.2},"encoding":{"x":{"field":"model","type":"nominal","sort":null},"xOffset":{"field":"season","type":"nominal"},"y":{"field":"lo","type":"quantitative"},"y2":{"field":"hi"}}},
{"data":{"values":[{"t":"South Asia"}]},"mark":{"type":"text","fontSize":23,"dx":25,"font":"Liberation Sans","color":"black"},"encoding":{"x":{"datum":"IPSL-CM5A-MR","type":"nominal"},"y":{"datum":2.42,"type":"quantitative"},"text":{"field":"t"}}}
]},
{"data":{"name":"bar"},"mark":{"type":"rect","width":10.33,"stroke":"#222","strokeWidth":0.8},"encoding":{"x":{"field":"v","type":"quantitative","scale":{"domain":[-1.05,1.05],"range":[357,791],"nice":false,"zero":false},"axis":{"orient":"bottom","offset":-253,"values":[-1,-0.8,-0.6,-0.4,-0.2,0,0.2,0.4,0.6,0.8,1],"labelExpr":"''+datum.value","domain":false,"ticks":false,"grid":false,"labelFontSize":19,"labelFont":"Liberation Sans","labelColor":"black","labelPadding":7,"title":"(°C)","titleFontSize":20,"titleFontWeight":"normal","titleFont":"Liberation Sans","titleColor":"black","titlePadding":5,"labelOverlap":false}},"y":{"datum":-1,"type":"quantitative","axis":null,"scale":{"domain":[-1,1],"range":[612,590.7],"nice":false,"zero":false}},"y2":{"datum":1},"color":{"field":"v","type":"quantitative","legend":null,"scale":{"type":"threshold","domain":[-1,-0.95,-0.9,-0.85,-0.8,-0.75,-0.7,-0.65,-0.6,-0.55,-0.5,-0.45,-0.4,-0.35,-0.3,-0.25,-0.2,-0.15,-0.1,-0.05,0,0.05,0.1,0.15,0.2,0.25,0.3,0.35,0.4,0.45,0.5,0.55,0.6,0.65,0.7,0.75,0.8,0.85,0.9,0.95,1],"range":["#3D4FC3","#4358C8","#4A62D0","#4F6AD6","#5672DC","#5A79E1","#6180E6","#6A8BEB","#7194EF","#7A9CF2","#82A4F5","#8BABF7","#94B3F9","#9DBAFA","#A6C1FA","#AFC8F9","#B8CFF8","#C1D4F5","#C9DAF2","#D2DEEE","#FFFFFF","#FFFFFF","#ECD2C4","#F2C8B4","#F4C2AC","#F5BBA2","#F6B498","#F7AE90","#F6A587","#F59D7E","#F39574","#F18D6B","#EE8463","#EB7B5A","#E87252","#E36849","#DE5E42","#D8553C","#D14B36","#C83E32","#BC2A2A","#B00B26"]}}}},
{"data":{"name":"key"},"mark":{"type":"rect","width":20,"height":44,"stroke":"#222","strokeWidth":1.8,"fill":{"expr":"datum.kind=='deforestation'?(datum.season=='JJA'?'#fdb813':'#e2111a'):{gradient:'linear',x1:0,y1:0,x2:150*20/(400+1936),y2:150*44/(400+1936),stops:datum.season=='JJA'?hatchO:hatchR}"}},"encoding":{"x":{"field":"season","type":"nominal","sort":null,"scale":{"domain":["JJA","TXx"],"range":[186,299],"paddingInner":0,"paddingOuter":0},"axis":{"orient":"top","offset":-698,"title":null,"domain":false,"ticks":false,"grid":false,"labelAngle":0,"labelFontSize":23,"labelFontWeight":"bold","labelFont":"Liberation Sans","labelPadding":0,"labelColor":{"condition":{"test":"datum.label=='JJA'","value":"#fdb813"},"value":"#e2111a"}}},"y":{"field":"kind","type":"nominal","sort":null,"scale":{"domain":["other forcings","deforestation"],"range":[706,834],"paddingInner":0,"paddingOuter":0},"axis":{"orient":"left","offset":-186,"title":null,"domain":false,"ticks":false,"grid":false,"labelAlign":"center","labelFontSize":21,"labelFont":"Liberation Sans","labelColor":"black","labelPadding":58,"labelLineHeight":20,"labelExpr":"datum.label=='other forcings'?['other','forcings']:datum.label"}}}}
],
"resolve":{"scale":{"x":"independent","y":"independent","xOffset":"independent"},"axis":{"x":"independent","y":"independent"}}
}
